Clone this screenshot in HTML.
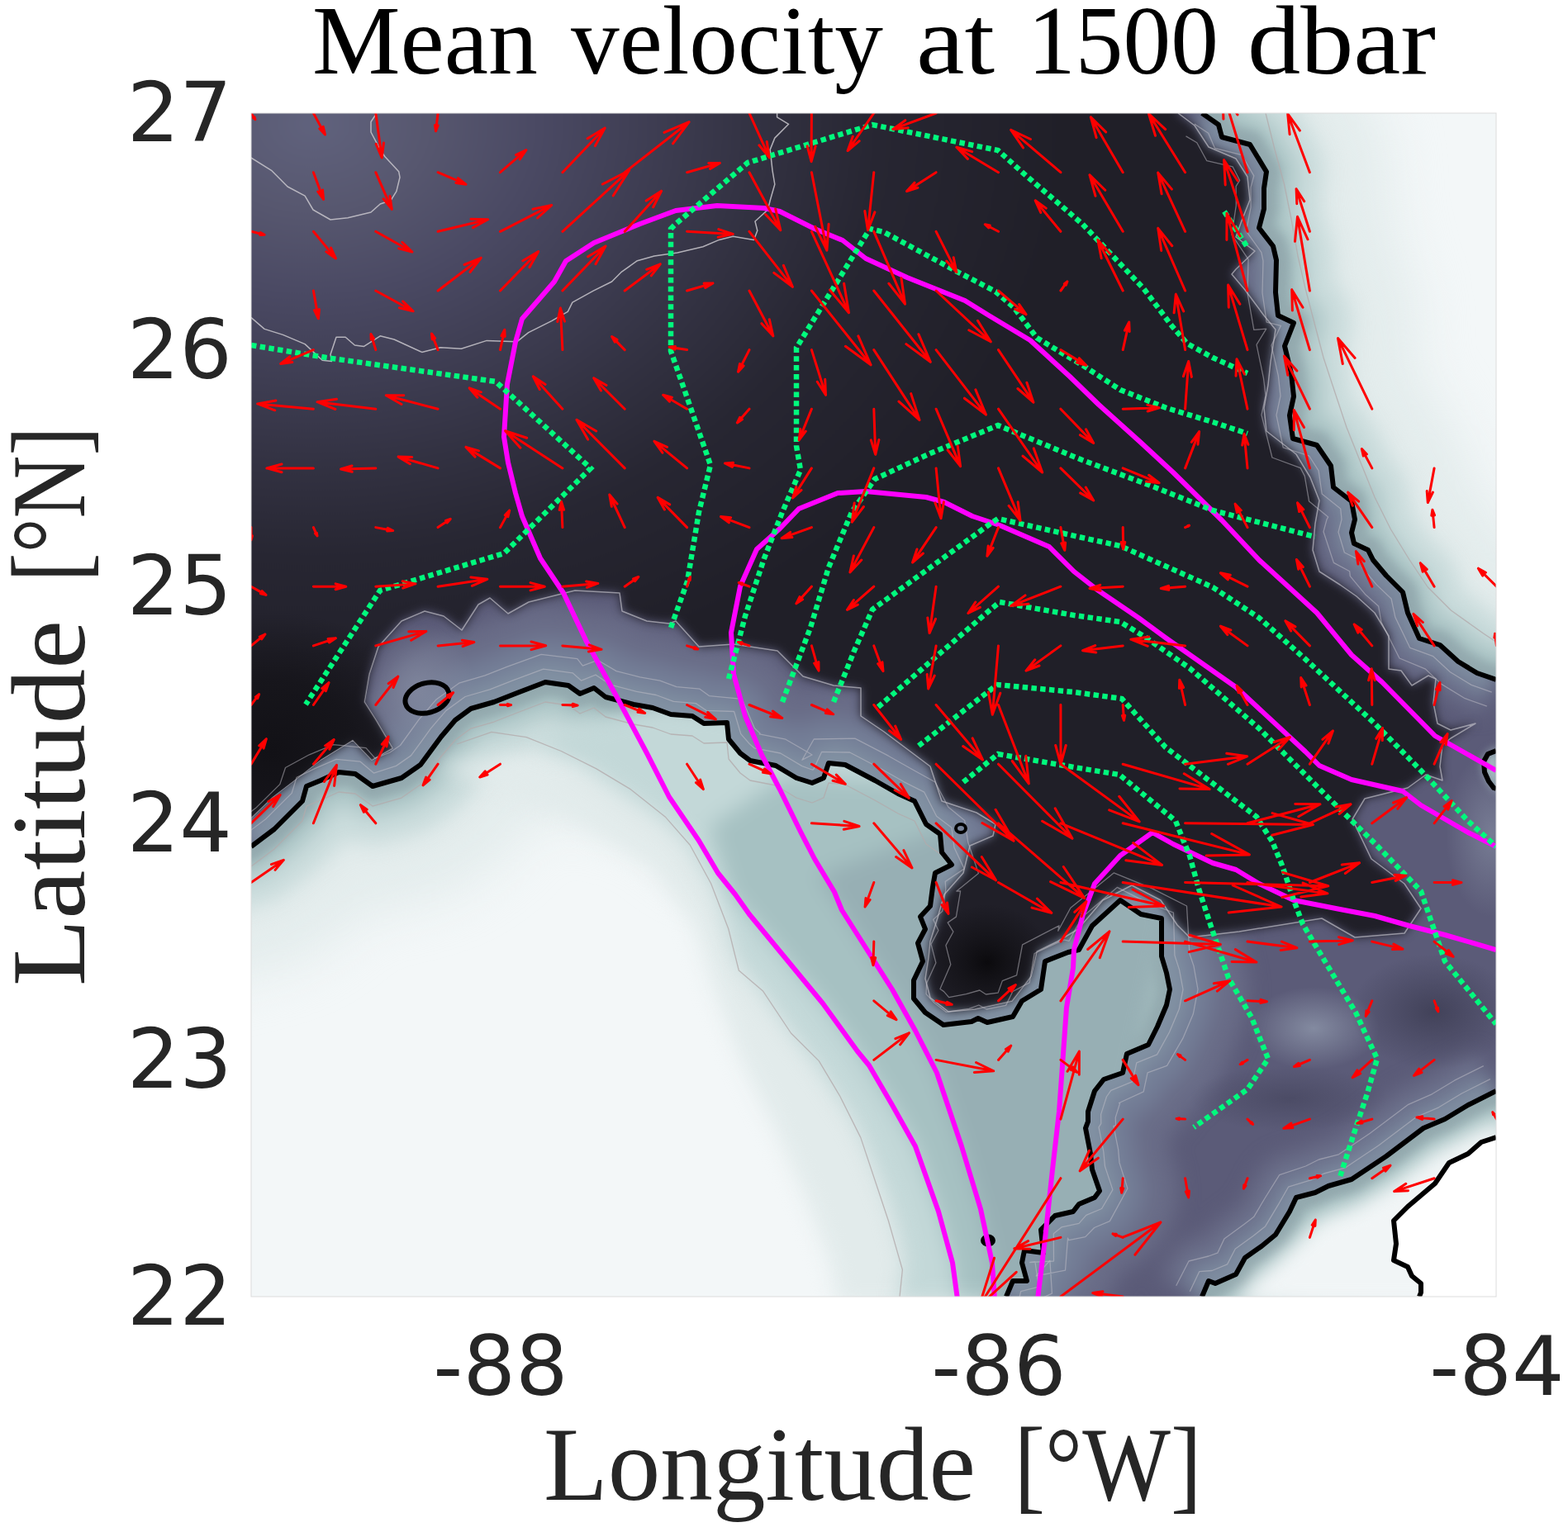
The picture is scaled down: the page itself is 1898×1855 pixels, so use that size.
<!DOCTYPE html>
<html><head><meta charset="utf-8"><style>
html,body{margin:0;padding:0;background:#fff;}
body{width:1898px;height:1855px;overflow:hidden;position:relative;}
svg{position:absolute;left:0;top:0;}
.ser{font-family:"Liberation Serif",serif;}
.san{font-family:"DejaVu Sans","Liberation Sans",sans-serif;}
</style></head><body>
<svg width="1898" height="1855" viewBox="0 0 1898 1855">
<defs>
<clipPath id="plot"><rect x="304" y="137" width="1507" height="1433"/></clipPath>
<clipPath id="deepc"><polygon points="250.0,1040.0 304.0,1025.0 332.0,1004.0 366.0,970.0 371.0,952.0 388.0,945.0 410.0,935.0 430.0,937.0 451.0,952.0 486.0,942.0 509.0,926.0 534.0,892.0 551.0,872.0 570.0,858.0 598.0,850.0 626.0,839.0 660.0,826.0 688.0,830.0 702.0,840.0 719.0,833.0 733.0,844.0 767.0,853.0 790.0,857.0 812.0,865.0 838.0,867.0 852.0,876.0 880.0,875.0 882.0,895.0 896.0,912.0 908.0,921.0 939.0,927.0 964.0,942.0 983.0,948.0 997.0,942.0 1003.0,924.0 1023.0,926.0 1059.0,945.0 1087.0,961.0 1107.0,970.0 1121.0,998.0 1138.0,1010.0 1140.0,1032.0 1152.0,1047.0 1132.0,1057.0 1129.0,1074.0 1126.0,1097.0 1114.0,1110.0 1120.0,1125.0 1111.0,1142.0 1117.0,1164.0 1106.0,1187.0 1106.0,1209.0 1120.0,1226.0 1142.0,1241.0 1176.0,1237.0 1184.0,1233.0 1195.0,1238.0 1226.0,1231.0 1237.0,1212.0 1260.0,1198.0 1265.0,1164.0 1293.0,1153.0 1306.0,1150.0 1322.0,1121.0 1356.0,1090.0 1381.0,1107.0 1406.0,1112.0 1406.0,1158.0 1412.0,1178.0 1416.0,1198.0 1412.0,1217.0 1401.0,1243.0 1390.0,1265.0 1364.0,1276.0 1359.0,1299.0 1336.0,1307.0 1325.0,1321.0 1317.0,1346.0 1317.0,1358.0 1314.0,1366.0 1320.0,1397.0 1322.0,1416.0 1331.0,1442.0 1325.0,1450.0 1306.0,1458.0 1299.0,1467.0 1277.0,1472.0 1260.0,1489.0 1263.0,1517.0 1240.0,1514.0 1237.0,1529.0 1243.0,1551.0 1226.0,1551.0 1218.0,1570.0 1455.0,1570.0 1463.0,1551.0 1471.0,1554.0 1496.0,1543.0 1507.0,1523.0 1527.0,1509.0 1544.0,1495.0 1561.0,1467.0 1569.0,1450.0 1592.0,1444.0 1608.0,1436.0 1636.0,1428.0 1678.0,1400.0 1723.0,1366.0 1749.0,1355.0 1777.0,1338.0 1811.0,1321.0 1860.0,1321.0 1860.0,823.0 1811.0,823.0 1788.0,815.0 1765.0,801.0 1743.0,781.0 1718.0,773.0 1704.0,742.0 1698.0,717.0 1678.0,697.0 1662.0,678.0 1656.0,666.0 1639.0,658.0 1636.0,645.0 1640.0,629.0 1636.0,607.0 1614.0,590.0 1611.0,564.0 1594.0,539.0 1565.0,531.0 1561.0,503.0 1566.0,480.0 1563.0,452.0 1555.0,419.0 1566.0,391.0 1547.0,382.0 1544.0,354.0 1545.0,315.0 1541.0,298.0 1524.0,276.0 1530.0,253.0 1530.0,228.0 1533.0,208.0 1513.0,175.0 1479.0,166.0 1475.0,151.0 1455.0,137.0 1455.0,80.0 250.0,80.0" /></clipPath>
<clipPath id="darkc"><polygon points="250.0,80.0 1426.0,80.0 1426.0,137.0 1446.0,152.0 1463.0,178.0 1496.0,192.0 1510.0,214.0 1513.0,242.0 1502.0,270.0 1496.0,287.0 1519.0,304.0 1496.0,326.0 1491.0,332.0 1507.0,351.0 1530.0,382.0 1544.0,399.0 1538.0,438.0 1535.0,466.0 1530.0,494.0 1533.0,522.0 1569.0,550.0 1586.0,578.0 1597.0,606.0 1592.0,634.0 1589.0,666.0 1597.0,692.0 1622.0,708.0 1642.0,722.0 1664.0,742.0 1681.0,770.0 1681.0,810.0 1696.0,812.0 1709.0,830.0 1729.0,818.0 1738.0,822.0 1735.0,851.0 1740.0,876.0 1756.0,884.0 1786.0,876.0 1756.0,894.0 1746.0,902.0 1743.0,928.0 1746.0,945.0 1726.0,938.0 1704.0,954.0 1652.0,967.0 1637.0,992.0 1660.0,1040.0 1700.0,1070.0 1720.0,1100.0 1700.0,1130.0 1640.0,1135.0 1600.0,1112.0 1500.0,1128.0 1440.0,1135.0 1425.0,1120.0 1405.0,1090.0 1370.0,1072.0 1335.0,1090.0 1305.0,1125.0 1280.0,1140.0 1255.0,1152.0 1248.0,1182.0 1225.0,1212.0 1180.0,1222.0 1148.0,1225.0 1126.0,1208.0 1120.0,1185.0 1124.0,1160.0 1126.0,1140.0 1135.0,1111.0 1143.0,1083.0 1166.0,1057.0 1174.0,1024.0 1202.0,1012.0 1205.0,998.0 1182.0,984.0 1140.0,970.0 1126.0,928.0 1070.0,886.0 1042.0,867.0 1042.0,833.0 1009.0,830.0 972.0,819.0 941.0,788.0 888.0,780.0 846.0,783.0 818.0,752.0 810.0,755.0 783.0,752.0 753.0,740.0 750.0,718.0 696.0,715.0 640.0,729.0 615.0,743.0 593.0,724.0 579.0,732.0 559.0,763.0 537.0,746.0 514.0,740.0 486.0,752.0 458.0,783.0 447.0,816.0 441.0,850.0 455.0,872.0 475.0,906.0 450.0,920.0 427.0,896.0 388.0,920.0 360.0,942.0 330.0,965.0 304.0,990.0 250.0,1000.0" /></clipPath>
<filter id="b30" filterUnits="userSpaceOnUse" x="0" y="0" width="1898" height="1855" color-interpolation-filters="sRGB"><feGaussianBlur stdDeviation="30"/></filter>
<filter id="b12" filterUnits="userSpaceOnUse" x="0" y="0" width="1898" height="1855" color-interpolation-filters="sRGB"><feGaussianBlur stdDeviation="12"/></filter>
<filter id="b6" filterUnits="userSpaceOnUse" x="0" y="0" width="1898" height="1855" color-interpolation-filters="sRGB"><feGaussianBlur stdDeviation="6"/></filter>
<radialGradient id="dg" cx="380" cy="150" r="700" gradientUnits="userSpaceOnUse" gradientTransform="translate(380 150) scale(1.3 1) translate(-380 -150)">
<stop offset="0" stop-color="#60627d"/><stop offset="0.15" stop-color="#57576f"/><stop offset="0.3" stop-color="#4a4963"/><stop offset="0.45" stop-color="#3e3d52"/><stop offset="0.6" stop-color="#323141"/><stop offset="0.75" stop-color="#272632"/><stop offset="1" stop-color="#201f28"/>
</radialGradient>
<radialGradient id="spotL"><stop offset="0" stop-color="#838aa0" stop-opacity="1"/><stop offset="1" stop-color="#838aa0" stop-opacity="0"/></radialGradient>
<radialGradient id="spotD"><stop offset="0" stop-color="#3f3f56" stop-opacity="0.9"/><stop offset="1" stop-color="#3f3f56" stop-opacity="0"/></radialGradient>
<radialGradient id="spot1"><stop offset="0" stop-color="#121116" stop-opacity="1"/><stop offset="0.5" stop-color="#141318" stop-opacity="0.8"/><stop offset="1" stop-color="#141318" stop-opacity="0"/></radialGradient>
<radialGradient id="spot2"><stop offset="0" stop-color="#0b0a0d" stop-opacity="1"/><stop offset="0.6" stop-color="#141318" stop-opacity="0.6"/><stop offset="1" stop-color="#141318" stop-opacity="0"/></radialGradient>
</defs>
<g clip-path="url(#plot)">
<rect x="304" y="137" width="1507" height="1433" fill="#f3f7f8"/>
<g filter="url(#b30)"><polygon points="250.0,1040.0 304.0,1025.0 332.0,1004.0 366.0,970.0 371.0,952.0 388.0,945.0 410.0,935.0 430.0,937.0 451.0,952.0 486.0,942.0 509.0,926.0 534.0,892.0 551.0,872.0 570.0,858.0 598.0,850.0 626.0,839.0 660.0,826.0 688.0,830.0 702.0,840.0 719.0,833.0 733.0,844.0 767.0,853.0 790.0,857.0 812.0,865.0 838.0,867.0 852.0,876.0 880.0,875.0 882.0,895.0 896.0,912.0 908.0,921.0 939.0,927.0 964.0,942.0 983.0,948.0 997.0,942.0 1003.0,924.0 1023.0,926.0 1059.0,945.0 1087.0,961.0 1107.0,970.0 1121.0,998.0 1138.0,1010.0 1140.0,1032.0 1152.0,1047.0 1132.0,1057.0 1129.0,1074.0 1126.0,1097.0 1114.0,1110.0 1120.0,1125.0 1111.0,1142.0 1117.0,1164.0 1106.0,1187.0 1106.0,1209.0 1120.0,1226.0 1142.0,1241.0 1176.0,1237.0 1184.0,1233.0 1195.0,1238.0 1226.0,1231.0 1237.0,1212.0 1260.0,1198.0 1265.0,1164.0 1293.0,1153.0 1306.0,1150.0 1322.0,1121.0 1356.0,1090.0 1381.0,1107.0 1406.0,1112.0 1406.0,1158.0 1412.0,1178.0 1416.0,1198.0 1412.0,1217.0 1401.0,1243.0 1390.0,1265.0 1364.0,1276.0 1359.0,1299.0 1336.0,1307.0 1325.0,1321.0 1317.0,1346.0 1317.0,1358.0 1314.0,1366.0 1320.0,1397.0 1322.0,1416.0 1331.0,1442.0 1325.0,1450.0 1306.0,1458.0 1299.0,1467.0 1277.0,1472.0 1260.0,1489.0 1263.0,1517.0 1240.0,1514.0 1237.0,1529.0 1243.0,1551.0 1226.0,1551.0 1218.0,1570.0 1455.0,1570.0 1463.0,1551.0 1471.0,1554.0 1496.0,1543.0 1507.0,1523.0 1527.0,1509.0 1544.0,1495.0 1561.0,1467.0 1569.0,1450.0 1592.0,1444.0 1608.0,1436.0 1636.0,1428.0 1678.0,1400.0 1723.0,1366.0 1749.0,1355.0 1777.0,1338.0 1811.0,1321.0 1860.0,1321.0 1860.0,823.0 1811.0,823.0 1788.0,815.0 1765.0,801.0 1743.0,781.0 1718.0,773.0 1704.0,742.0 1698.0,717.0 1678.0,697.0 1662.0,678.0 1656.0,666.0 1639.0,658.0 1636.0,645.0 1640.0,629.0 1636.0,607.0 1614.0,590.0 1611.0,564.0 1594.0,539.0 1565.0,531.0 1561.0,503.0 1566.0,480.0 1563.0,452.0 1555.0,419.0 1566.0,391.0 1547.0,382.0 1544.0,354.0 1545.0,315.0 1541.0,298.0 1524.0,276.0 1530.0,253.0 1530.0,228.0 1533.0,208.0 1513.0,175.0 1479.0,166.0 1475.0,151.0 1455.0,137.0 1455.0,80.0 250.0,80.0" fill="none" stroke="#e3ecec" stroke-width="300" stroke-linejoin="round"/></g>
<g filter="url(#b12)"><polygon points="250.0,1040.0 304.0,1025.0 332.0,1004.0 366.0,970.0 371.0,952.0 388.0,945.0 410.0,935.0 430.0,937.0 451.0,952.0 486.0,942.0 509.0,926.0 534.0,892.0 551.0,872.0 570.0,858.0 598.0,850.0 626.0,839.0 660.0,826.0 688.0,830.0 702.0,840.0 719.0,833.0 733.0,844.0 767.0,853.0 790.0,857.0 812.0,865.0 838.0,867.0 852.0,876.0 880.0,875.0 882.0,895.0 896.0,912.0 908.0,921.0 939.0,927.0 964.0,942.0 983.0,948.0 997.0,942.0 1003.0,924.0 1023.0,926.0 1059.0,945.0 1087.0,961.0 1107.0,970.0 1121.0,998.0 1138.0,1010.0 1140.0,1032.0 1152.0,1047.0 1132.0,1057.0 1129.0,1074.0 1126.0,1097.0 1114.0,1110.0 1120.0,1125.0 1111.0,1142.0 1117.0,1164.0 1106.0,1187.0 1106.0,1209.0 1120.0,1226.0 1142.0,1241.0 1176.0,1237.0 1184.0,1233.0 1195.0,1238.0 1226.0,1231.0 1237.0,1212.0 1260.0,1198.0 1265.0,1164.0 1293.0,1153.0 1306.0,1150.0 1322.0,1121.0 1356.0,1090.0 1381.0,1107.0 1406.0,1112.0 1406.0,1158.0 1412.0,1178.0 1416.0,1198.0 1412.0,1217.0 1401.0,1243.0 1390.0,1265.0 1364.0,1276.0 1359.0,1299.0 1336.0,1307.0 1325.0,1321.0 1317.0,1346.0 1317.0,1358.0 1314.0,1366.0 1320.0,1397.0 1322.0,1416.0 1331.0,1442.0 1325.0,1450.0 1306.0,1458.0 1299.0,1467.0 1277.0,1472.0 1260.0,1489.0 1263.0,1517.0 1240.0,1514.0 1237.0,1529.0 1243.0,1551.0 1226.0,1551.0 1218.0,1570.0 1455.0,1570.0 1463.0,1551.0 1471.0,1554.0 1496.0,1543.0 1507.0,1523.0 1527.0,1509.0 1544.0,1495.0 1561.0,1467.0 1569.0,1450.0 1592.0,1444.0 1608.0,1436.0 1636.0,1428.0 1678.0,1400.0 1723.0,1366.0 1749.0,1355.0 1777.0,1338.0 1811.0,1321.0 1860.0,1321.0 1860.0,823.0 1811.0,823.0 1788.0,815.0 1765.0,801.0 1743.0,781.0 1718.0,773.0 1704.0,742.0 1698.0,717.0 1678.0,697.0 1662.0,678.0 1656.0,666.0 1639.0,658.0 1636.0,645.0 1640.0,629.0 1636.0,607.0 1614.0,590.0 1611.0,564.0 1594.0,539.0 1565.0,531.0 1561.0,503.0 1566.0,480.0 1563.0,452.0 1555.0,419.0 1566.0,391.0 1547.0,382.0 1544.0,354.0 1545.0,315.0 1541.0,298.0 1524.0,276.0 1530.0,253.0 1530.0,228.0 1533.0,208.0 1513.0,175.0 1479.0,166.0 1475.0,151.0 1455.0,137.0 1455.0,80.0 250.0,80.0" fill="none" stroke="#c9dbdb" stroke-width="140" stroke-linejoin="round"/><polygon points="250.0,1040.0 304.0,1025.0 332.0,1004.0 366.0,970.0 371.0,952.0 388.0,945.0 410.0,935.0 430.0,937.0 451.0,952.0 486.0,942.0 509.0,926.0 534.0,892.0 551.0,872.0 570.0,858.0 598.0,850.0 626.0,839.0 660.0,826.0 688.0,830.0 702.0,840.0 719.0,833.0 733.0,844.0 767.0,853.0 790.0,857.0 812.0,865.0 838.0,867.0 852.0,876.0 880.0,875.0 882.0,895.0 896.0,912.0 908.0,921.0 939.0,927.0 964.0,942.0 983.0,948.0 997.0,942.0 1003.0,924.0 1023.0,926.0 1059.0,945.0 1087.0,961.0 1107.0,970.0 1121.0,998.0 1138.0,1010.0 1140.0,1032.0 1152.0,1047.0 1132.0,1057.0 1129.0,1074.0 1126.0,1097.0 1114.0,1110.0 1120.0,1125.0 1111.0,1142.0 1117.0,1164.0 1106.0,1187.0 1106.0,1209.0 1120.0,1226.0 1142.0,1241.0 1176.0,1237.0 1184.0,1233.0 1195.0,1238.0 1226.0,1231.0 1237.0,1212.0 1260.0,1198.0 1265.0,1164.0 1293.0,1153.0 1306.0,1150.0 1322.0,1121.0 1356.0,1090.0 1381.0,1107.0 1406.0,1112.0 1406.0,1158.0 1412.0,1178.0 1416.0,1198.0 1412.0,1217.0 1401.0,1243.0 1390.0,1265.0 1364.0,1276.0 1359.0,1299.0 1336.0,1307.0 1325.0,1321.0 1317.0,1346.0 1317.0,1358.0 1314.0,1366.0 1320.0,1397.0 1322.0,1416.0 1331.0,1442.0 1325.0,1450.0 1306.0,1458.0 1299.0,1467.0 1277.0,1472.0 1260.0,1489.0 1263.0,1517.0 1240.0,1514.0 1237.0,1529.0 1243.0,1551.0 1226.0,1551.0 1218.0,1570.0 1455.0,1570.0 1463.0,1551.0 1471.0,1554.0 1496.0,1543.0 1507.0,1523.0 1527.0,1509.0 1544.0,1495.0 1561.0,1467.0 1569.0,1450.0 1592.0,1444.0 1608.0,1436.0 1636.0,1428.0 1678.0,1400.0 1723.0,1366.0 1749.0,1355.0 1777.0,1338.0 1811.0,1321.0 1860.0,1321.0 1860.0,823.0 1811.0,823.0 1788.0,815.0 1765.0,801.0 1743.0,781.0 1718.0,773.0 1704.0,742.0 1698.0,717.0 1678.0,697.0 1662.0,678.0 1656.0,666.0 1639.0,658.0 1636.0,645.0 1640.0,629.0 1636.0,607.0 1614.0,590.0 1611.0,564.0 1594.0,539.0 1565.0,531.0 1561.0,503.0 1566.0,480.0 1563.0,452.0 1555.0,419.0 1566.0,391.0 1547.0,382.0 1544.0,354.0 1545.0,315.0 1541.0,298.0 1524.0,276.0 1530.0,253.0 1530.0,228.0 1533.0,208.0 1513.0,175.0 1479.0,166.0 1475.0,151.0 1455.0,137.0 1455.0,80.0 250.0,80.0" fill="none" stroke="#a9c3c4" stroke-width="70" stroke-linejoin="round"/></g>
<g filter="url(#b6)"><polygon points="250.0,1040.0 304.0,1025.0 332.0,1004.0 366.0,970.0 371.0,952.0 388.0,945.0 410.0,935.0 430.0,937.0 451.0,952.0 486.0,942.0 509.0,926.0 534.0,892.0 551.0,872.0 570.0,858.0 598.0,850.0 626.0,839.0 660.0,826.0 688.0,830.0 702.0,840.0 719.0,833.0 733.0,844.0 767.0,853.0 790.0,857.0 812.0,865.0 838.0,867.0 852.0,876.0 880.0,875.0 882.0,895.0 896.0,912.0 908.0,921.0 939.0,927.0 964.0,942.0 983.0,948.0 997.0,942.0 1003.0,924.0 1023.0,926.0 1059.0,945.0 1087.0,961.0 1107.0,970.0 1121.0,998.0 1138.0,1010.0 1140.0,1032.0 1152.0,1047.0 1132.0,1057.0 1129.0,1074.0 1126.0,1097.0 1114.0,1110.0 1120.0,1125.0 1111.0,1142.0 1117.0,1164.0 1106.0,1187.0 1106.0,1209.0 1120.0,1226.0 1142.0,1241.0 1176.0,1237.0 1184.0,1233.0 1195.0,1238.0 1226.0,1231.0 1237.0,1212.0 1260.0,1198.0 1265.0,1164.0 1293.0,1153.0 1306.0,1150.0 1322.0,1121.0 1356.0,1090.0 1381.0,1107.0 1406.0,1112.0 1406.0,1158.0 1412.0,1178.0 1416.0,1198.0 1412.0,1217.0 1401.0,1243.0 1390.0,1265.0 1364.0,1276.0 1359.0,1299.0 1336.0,1307.0 1325.0,1321.0 1317.0,1346.0 1317.0,1358.0 1314.0,1366.0 1320.0,1397.0 1322.0,1416.0 1331.0,1442.0 1325.0,1450.0 1306.0,1458.0 1299.0,1467.0 1277.0,1472.0 1260.0,1489.0 1263.0,1517.0 1240.0,1514.0 1237.0,1529.0 1243.0,1551.0 1226.0,1551.0 1218.0,1570.0 1455.0,1570.0 1463.0,1551.0 1471.0,1554.0 1496.0,1543.0 1507.0,1523.0 1527.0,1509.0 1544.0,1495.0 1561.0,1467.0 1569.0,1450.0 1592.0,1444.0 1608.0,1436.0 1636.0,1428.0 1678.0,1400.0 1723.0,1366.0 1749.0,1355.0 1777.0,1338.0 1811.0,1321.0 1860.0,1321.0 1860.0,823.0 1811.0,823.0 1788.0,815.0 1765.0,801.0 1743.0,781.0 1718.0,773.0 1704.0,742.0 1698.0,717.0 1678.0,697.0 1662.0,678.0 1656.0,666.0 1639.0,658.0 1636.0,645.0 1640.0,629.0 1636.0,607.0 1614.0,590.0 1611.0,564.0 1594.0,539.0 1565.0,531.0 1561.0,503.0 1566.0,480.0 1563.0,452.0 1555.0,419.0 1566.0,391.0 1547.0,382.0 1544.0,354.0 1545.0,315.0 1541.0,298.0 1524.0,276.0 1530.0,253.0 1530.0,228.0 1533.0,208.0 1513.0,175.0 1479.0,166.0 1475.0,151.0 1455.0,137.0 1455.0,80.0 250.0,80.0" fill="none" stroke="#93a9ae" stroke-width="34" stroke-linejoin="round"/></g>
<g filter="url(#b12)"><polygon points="520.0,925.0 600.0,950.0 700.0,995.0 790.0,1050.0 840.0,1120.0 865.0,1200.0 895.0,1280.0 935.0,1360.0 975.0,1450.0 1005.0,1530.0 1015.0,1580.0 1200.0,1580.0 1200.0,900.0" fill="#e2ebeb"/></g>
<g filter="url(#b12)"><polygon points="640.0,900.0 700.0,924.0 751.0,959.0 799.0,991.0 830.0,1019.0 866.0,1078.0 890.0,1161.0 921.0,1200.0 953.0,1244.0 992.0,1295.0 1032.0,1354.0 1056.0,1406.0 1075.0,1453.0 1087.0,1493.0 1095.0,1532.0 1085.0,1575.0 1300.0,1575.0 1420.0,1100.0 1150.0,900.0 800.0,850.0" fill="#c3d8d8"/><polygon points="860.0,1000.0 884.0,1080.0 968.0,1181.0 996.0,1215.0 1038.0,1273.0 1080.0,1338.0 1108.0,1388.0 1136.0,1467.0 1153.0,1529.0 1159.0,1575.0 1300.0,1575.0 1420.0,1100.0 1150.0,950.0 950.0,940.0" fill="#a6c1c2"/><polygon points="990.0,1060.0 1019.0,1102.0 1080.0,1198.0 1108.0,1248.0 1134.0,1299.0 1164.0,1388.0 1187.0,1464.0 1201.0,1529.0 1204.0,1575.0 1320.0,1575.0 1420.0,1100.0 1150.0,1000.0" fill="#97afb4"/></g>
<polygon points="250.0,1040.0 304.0,1025.0 332.0,1004.0 366.0,970.0 371.0,952.0 388.0,945.0 410.0,935.0 430.0,937.0 451.0,952.0 486.0,942.0 509.0,926.0 534.0,892.0 551.0,872.0 570.0,858.0 598.0,850.0 626.0,839.0 660.0,826.0 688.0,830.0 702.0,840.0 719.0,833.0 733.0,844.0 767.0,853.0 790.0,857.0 812.0,865.0 838.0,867.0 852.0,876.0 880.0,875.0 882.0,895.0 896.0,912.0 908.0,921.0 939.0,927.0 964.0,942.0 983.0,948.0 997.0,942.0 1003.0,924.0 1023.0,926.0 1059.0,945.0 1087.0,961.0 1107.0,970.0 1121.0,998.0 1138.0,1010.0 1140.0,1032.0 1152.0,1047.0 1132.0,1057.0 1129.0,1074.0 1126.0,1097.0 1114.0,1110.0 1120.0,1125.0 1111.0,1142.0 1117.0,1164.0 1106.0,1187.0 1106.0,1209.0 1120.0,1226.0 1142.0,1241.0 1176.0,1237.0 1184.0,1233.0 1195.0,1238.0 1226.0,1231.0 1237.0,1212.0 1260.0,1198.0 1265.0,1164.0 1293.0,1153.0 1306.0,1150.0 1322.0,1121.0 1356.0,1090.0 1381.0,1107.0 1406.0,1112.0 1406.0,1158.0 1412.0,1178.0 1416.0,1198.0 1412.0,1217.0 1401.0,1243.0 1390.0,1265.0 1364.0,1276.0 1359.0,1299.0 1336.0,1307.0 1325.0,1321.0 1317.0,1346.0 1317.0,1358.0 1314.0,1366.0 1320.0,1397.0 1322.0,1416.0 1331.0,1442.0 1325.0,1450.0 1306.0,1458.0 1299.0,1467.0 1277.0,1472.0 1260.0,1489.0 1263.0,1517.0 1240.0,1514.0 1237.0,1529.0 1243.0,1551.0 1226.0,1551.0 1218.0,1570.0 1455.0,1570.0 1463.0,1551.0 1471.0,1554.0 1496.0,1543.0 1507.0,1523.0 1527.0,1509.0 1544.0,1495.0 1561.0,1467.0 1569.0,1450.0 1592.0,1444.0 1608.0,1436.0 1636.0,1428.0 1678.0,1400.0 1723.0,1366.0 1749.0,1355.0 1777.0,1338.0 1811.0,1321.0 1860.0,1321.0 1860.0,823.0 1811.0,823.0 1788.0,815.0 1765.0,801.0 1743.0,781.0 1718.0,773.0 1704.0,742.0 1698.0,717.0 1678.0,697.0 1662.0,678.0 1656.0,666.0 1639.0,658.0 1636.0,645.0 1640.0,629.0 1636.0,607.0 1614.0,590.0 1611.0,564.0 1594.0,539.0 1565.0,531.0 1561.0,503.0 1566.0,480.0 1563.0,452.0 1555.0,419.0 1566.0,391.0 1547.0,382.0 1544.0,354.0 1545.0,315.0 1541.0,298.0 1524.0,276.0 1530.0,253.0 1530.0,228.0 1533.0,208.0 1513.0,175.0 1479.0,166.0 1475.0,151.0 1455.0,137.0 1455.0,80.0 250.0,80.0" fill="#5b5b78"/>
<g clip-path="url(#deepc)">
<g filter="url(#b12)">
<polyline points="304.0,1025.0 332.0,1004.0 366.0,970.0 371.0,952.0 388.0,945.0 410.0,935.0 430.0,937.0 451.0,952.0 486.0,942.0 509.0,926.0 534.0,892.0 551.0,872.0 570.0,858.0 598.0,850.0 626.0,839.0 660.0,826.0 688.0,830.0 702.0,840.0 719.0,833.0 733.0,844.0 767.0,853.0 790.0,857.0 812.0,865.0 838.0,867.0 852.0,876.0 880.0,875.0 882.0,895.0 896.0,912.0 908.0,921.0 939.0,927.0 964.0,942.0 983.0,948.0 997.0,942.0 1003.0,924.0 1023.0,926.0 1059.0,945.0 1087.0,961.0 1107.0,970.0 1121.0,998.0 1138.0,1010.0 1140.0,1032.0 1152.0,1047.0 1132.0,1057.0 1129.0,1074.0 1126.0,1097.0 1114.0,1110.0 1120.0,1125.0 1111.0,1142.0 1117.0,1164.0 1106.0,1187.0 1106.0,1209.0 1120.0,1226.0 1142.0,1241.0 1176.0,1237.0 1184.0,1233.0 1195.0,1238.0 1226.0,1231.0 1237.0,1212.0 1260.0,1198.0 1265.0,1164.0 1293.0,1153.0 1306.0,1150.0 1322.0,1121.0 1356.0,1090.0 1381.0,1107.0 1406.0,1112.0 1406.0,1158.0 1412.0,1178.0 1416.0,1198.0 1412.0,1217.0 1401.0,1243.0 1390.0,1265.0 1364.0,1276.0 1359.0,1299.0 1336.0,1307.0 1325.0,1321.0 1317.0,1346.0 1317.0,1358.0 1314.0,1366.0 1320.0,1397.0 1322.0,1416.0 1331.0,1442.0 1325.0,1450.0 1306.0,1458.0 1299.0,1467.0 1277.0,1472.0 1260.0,1489.0 1263.0,1517.0 1240.0,1514.0 1237.0,1529.0 1243.0,1551.0 1226.0,1551.0 1218.0,1570.0" fill="none" stroke="#696c87" stroke-width="190" stroke-linejoin="round"/>
<polyline points="1455.0,1570.0 1463.0,1551.0 1471.0,1554.0 1496.0,1543.0 1507.0,1523.0 1527.0,1509.0 1544.0,1495.0 1561.0,1467.0 1569.0,1450.0 1592.0,1444.0 1608.0,1436.0 1636.0,1428.0 1678.0,1400.0 1723.0,1366.0 1749.0,1355.0 1777.0,1338.0 1811.0,1321.0" fill="none" stroke="#696c87" stroke-width="110" stroke-linejoin="round"/>
<polyline points="1811.0,823.0 1788.0,815.0 1765.0,801.0 1743.0,781.0 1718.0,773.0 1704.0,742.0 1698.0,717.0 1678.0,697.0 1662.0,678.0 1656.0,666.0 1639.0,658.0 1636.0,645.0 1640.0,629.0 1636.0,607.0 1614.0,590.0 1611.0,564.0 1594.0,539.0 1565.0,531.0 1561.0,503.0 1566.0,480.0 1563.0,452.0 1555.0,419.0 1566.0,391.0 1547.0,382.0 1544.0,354.0 1545.0,315.0 1541.0,298.0 1524.0,276.0 1530.0,253.0 1530.0,228.0 1533.0,208.0 1513.0,175.0 1479.0,166.0 1475.0,151.0 1455.0,137.0" fill="none" stroke="#696c87" stroke-width="90" stroke-linejoin="round"/>
<polyline points="304.0,1025.0 332.0,1004.0 366.0,970.0 371.0,952.0 388.0,945.0 410.0,935.0 430.0,937.0 451.0,952.0 486.0,942.0 509.0,926.0 534.0,892.0 551.0,872.0 570.0,858.0 598.0,850.0 626.0,839.0 660.0,826.0 688.0,830.0 702.0,840.0 719.0,833.0 733.0,844.0 767.0,853.0 790.0,857.0 812.0,865.0 838.0,867.0 852.0,876.0 880.0,875.0 882.0,895.0 896.0,912.0 908.0,921.0 939.0,927.0 964.0,942.0 983.0,948.0 997.0,942.0 1003.0,924.0 1023.0,926.0 1059.0,945.0 1087.0,961.0 1107.0,970.0 1121.0,998.0 1138.0,1010.0 1140.0,1032.0 1152.0,1047.0 1132.0,1057.0 1129.0,1074.0 1126.0,1097.0 1114.0,1110.0 1120.0,1125.0 1111.0,1142.0 1117.0,1164.0 1106.0,1187.0 1106.0,1209.0 1120.0,1226.0 1142.0,1241.0 1176.0,1237.0 1184.0,1233.0 1195.0,1238.0 1226.0,1231.0 1237.0,1212.0 1260.0,1198.0 1265.0,1164.0 1293.0,1153.0 1306.0,1150.0 1322.0,1121.0 1356.0,1090.0 1381.0,1107.0 1406.0,1112.0 1406.0,1158.0 1412.0,1178.0 1416.0,1198.0 1412.0,1217.0 1401.0,1243.0 1390.0,1265.0 1364.0,1276.0 1359.0,1299.0 1336.0,1307.0 1325.0,1321.0 1317.0,1346.0 1317.0,1358.0 1314.0,1366.0 1320.0,1397.0 1322.0,1416.0 1331.0,1442.0 1325.0,1450.0 1306.0,1458.0 1299.0,1467.0 1277.0,1472.0 1260.0,1489.0 1263.0,1517.0 1240.0,1514.0 1237.0,1529.0 1243.0,1551.0 1226.0,1551.0 1218.0,1570.0" fill="none" stroke="#737d96" stroke-width="110" stroke-linejoin="round"/>
<polyline points="1455.0,1570.0 1463.0,1551.0 1471.0,1554.0 1496.0,1543.0 1507.0,1523.0 1527.0,1509.0 1544.0,1495.0 1561.0,1467.0 1569.0,1450.0 1592.0,1444.0 1608.0,1436.0 1636.0,1428.0 1678.0,1400.0 1723.0,1366.0 1749.0,1355.0 1777.0,1338.0 1811.0,1321.0" fill="none" stroke="#737d96" stroke-width="60" stroke-linejoin="round"/>
<polyline points="1811.0,823.0 1788.0,815.0 1765.0,801.0 1743.0,781.0 1718.0,773.0 1704.0,742.0 1698.0,717.0 1678.0,697.0 1662.0,678.0 1656.0,666.0 1639.0,658.0 1636.0,645.0 1640.0,629.0 1636.0,607.0 1614.0,590.0 1611.0,564.0 1594.0,539.0 1565.0,531.0 1561.0,503.0 1566.0,480.0 1563.0,452.0 1555.0,419.0 1566.0,391.0 1547.0,382.0 1544.0,354.0 1545.0,315.0 1541.0,298.0 1524.0,276.0 1530.0,253.0 1530.0,228.0 1533.0,208.0 1513.0,175.0 1479.0,166.0 1475.0,151.0 1455.0,137.0" fill="none" stroke="#737d96" stroke-width="48" stroke-linejoin="round"/>
<polyline points="304.0,1025.0 332.0,1004.0 366.0,970.0 371.0,952.0 388.0,945.0 410.0,935.0 430.0,937.0 451.0,952.0 486.0,942.0 509.0,926.0 534.0,892.0 551.0,872.0 570.0,858.0 598.0,850.0 626.0,839.0 660.0,826.0 688.0,830.0 702.0,840.0 719.0,833.0 733.0,844.0 767.0,853.0 790.0,857.0 812.0,865.0 838.0,867.0 852.0,876.0 880.0,875.0 882.0,895.0 896.0,912.0 908.0,921.0 939.0,927.0 964.0,942.0 983.0,948.0 997.0,942.0 1003.0,924.0 1023.0,926.0 1059.0,945.0 1087.0,961.0 1107.0,970.0 1121.0,998.0 1138.0,1010.0 1140.0,1032.0 1152.0,1047.0 1132.0,1057.0 1129.0,1074.0 1126.0,1097.0 1114.0,1110.0 1120.0,1125.0 1111.0,1142.0 1117.0,1164.0 1106.0,1187.0 1106.0,1209.0 1120.0,1226.0 1142.0,1241.0 1176.0,1237.0 1184.0,1233.0 1195.0,1238.0 1226.0,1231.0 1237.0,1212.0 1260.0,1198.0 1265.0,1164.0 1293.0,1153.0 1306.0,1150.0 1322.0,1121.0 1356.0,1090.0 1381.0,1107.0 1406.0,1112.0 1406.0,1158.0 1412.0,1178.0 1416.0,1198.0 1412.0,1217.0 1401.0,1243.0 1390.0,1265.0 1364.0,1276.0 1359.0,1299.0 1336.0,1307.0 1325.0,1321.0 1317.0,1346.0 1317.0,1358.0 1314.0,1366.0 1320.0,1397.0 1322.0,1416.0 1331.0,1442.0 1325.0,1450.0 1306.0,1458.0 1299.0,1467.0 1277.0,1472.0 1260.0,1489.0 1263.0,1517.0 1240.0,1514.0 1237.0,1529.0 1243.0,1551.0 1226.0,1551.0 1218.0,1570.0" fill="none" stroke="#8292a3" stroke-width="44" stroke-linejoin="round"/>
<polyline points="1455.0,1570.0 1463.0,1551.0 1471.0,1554.0 1496.0,1543.0 1507.0,1523.0 1527.0,1509.0 1544.0,1495.0 1561.0,1467.0 1569.0,1450.0 1592.0,1444.0 1608.0,1436.0 1636.0,1428.0 1678.0,1400.0 1723.0,1366.0 1749.0,1355.0 1777.0,1338.0 1811.0,1321.0" fill="none" stroke="#8292a3" stroke-width="26" stroke-linejoin="round"/>
<polyline points="1811.0,823.0 1788.0,815.0 1765.0,801.0 1743.0,781.0 1718.0,773.0 1704.0,742.0 1698.0,717.0 1678.0,697.0 1662.0,678.0 1656.0,666.0 1639.0,658.0 1636.0,645.0 1640.0,629.0 1636.0,607.0 1614.0,590.0 1611.0,564.0 1594.0,539.0 1565.0,531.0 1561.0,503.0 1566.0,480.0 1563.0,452.0 1555.0,419.0 1566.0,391.0 1547.0,382.0 1544.0,354.0 1545.0,315.0 1541.0,298.0 1524.0,276.0 1530.0,253.0 1530.0,228.0 1533.0,208.0 1513.0,175.0 1479.0,166.0 1475.0,151.0 1455.0,137.0" fill="none" stroke="#8292a3" stroke-width="22" stroke-linejoin="round"/>
</g>
<ellipse cx="1590" cy="1245" rx="80" ry="50" fill="url(#spotL)"/>
<ellipse cx="505" cy="835" rx="70" ry="80" fill="url(#spotL)" opacity="0.8"/>
<ellipse cx="1805" cy="1010" rx="55" ry="100" fill="url(#spotL)" opacity="0.7"/>
<ellipse cx="1735" cy="1225" rx="100" ry="70" fill="url(#spotD)"/>
<ellipse cx="1560" cy="1330" rx="120" ry="40" fill="url(#spotD)" opacity="0.6"/>
<g filter="url(#b6)">
<polygon points="250.0,80.0 1426.0,80.0 1426.0,137.0 1446.0,152.0 1463.0,178.0 1496.0,192.0 1510.0,214.0 1513.0,242.0 1502.0,270.0 1496.0,287.0 1519.0,304.0 1496.0,326.0 1491.0,332.0 1507.0,351.0 1530.0,382.0 1544.0,399.0 1538.0,438.0 1535.0,466.0 1530.0,494.0 1533.0,522.0 1569.0,550.0 1586.0,578.0 1597.0,606.0 1592.0,634.0 1589.0,666.0 1597.0,692.0 1622.0,708.0 1642.0,722.0 1664.0,742.0 1681.0,770.0 1681.0,810.0 1696.0,812.0 1709.0,830.0 1729.0,818.0 1738.0,822.0 1735.0,851.0 1740.0,876.0 1756.0,884.0 1786.0,876.0 1756.0,894.0 1746.0,902.0 1743.0,928.0 1746.0,945.0 1726.0,938.0 1704.0,954.0 1652.0,967.0 1637.0,992.0 1660.0,1040.0 1700.0,1070.0 1720.0,1100.0 1700.0,1130.0 1640.0,1135.0 1600.0,1112.0 1500.0,1128.0 1440.0,1135.0 1425.0,1120.0 1405.0,1090.0 1370.0,1072.0 1335.0,1090.0 1305.0,1125.0 1280.0,1140.0 1255.0,1152.0 1248.0,1182.0 1225.0,1212.0 1180.0,1222.0 1148.0,1225.0 1126.0,1208.0 1120.0,1185.0 1124.0,1160.0 1126.0,1140.0 1135.0,1111.0 1143.0,1083.0 1166.0,1057.0 1174.0,1024.0 1202.0,1012.0 1205.0,998.0 1182.0,984.0 1140.0,970.0 1126.0,928.0 1070.0,886.0 1042.0,867.0 1042.0,833.0 1009.0,830.0 972.0,819.0 941.0,788.0 888.0,780.0 846.0,783.0 818.0,752.0 810.0,755.0 783.0,752.0 753.0,740.0 750.0,718.0 696.0,715.0 640.0,729.0 615.0,743.0 593.0,724.0 579.0,732.0 559.0,763.0 537.0,746.0 514.0,740.0 486.0,752.0 458.0,783.0 447.0,816.0 441.0,850.0 455.0,872.0 475.0,906.0 450.0,920.0 427.0,896.0 388.0,920.0 360.0,942.0 330.0,965.0 304.0,990.0 250.0,1000.0" fill="url(#dg)"/>
</g>
<polyline points="1426.0,137.0 1446.0,152.0 1463.0,178.0 1496.0,192.0 1510.0,214.0 1513.0,242.0 1502.0,270.0 1496.0,287.0 1519.0,304.0 1496.0,326.0 1491.0,332.0 1507.0,351.0 1530.0,382.0 1544.0,399.0 1538.0,438.0 1535.0,466.0 1530.0,494.0 1533.0,522.0 1569.0,550.0 1586.0,578.0 1597.0,606.0 1592.0,634.0 1589.0,666.0 1597.0,692.0 1622.0,708.0 1642.0,722.0 1664.0,742.0 1681.0,770.0 1681.0,810.0 1696.0,812.0 1709.0,830.0 1729.0,818.0 1738.0,822.0 1735.0,851.0 1740.0,876.0 1756.0,884.0 1786.0,876.0 1756.0,894.0 1746.0,902.0 1743.0,928.0 1746.0,945.0 1726.0,938.0 1704.0,954.0 1652.0,967.0 1637.0,992.0 1660.0,1040.0 1700.0,1070.0 1720.0,1100.0 1700.0,1130.0 1640.0,1135.0 1600.0,1112.0 1500.0,1128.0 1440.0,1135.0 1425.0,1120.0 1405.0,1090.0 1370.0,1072.0 1335.0,1090.0 1305.0,1125.0 1280.0,1140.0 1255.0,1152.0 1248.0,1182.0 1225.0,1212.0 1180.0,1222.0 1148.0,1225.0 1126.0,1208.0 1120.0,1185.0 1124.0,1160.0 1126.0,1140.0 1135.0,1111.0 1143.0,1083.0 1166.0,1057.0 1174.0,1024.0 1202.0,1012.0 1205.0,998.0 1182.0,984.0 1140.0,970.0 1126.0,928.0 1070.0,886.0 1042.0,867.0 1042.0,833.0 1009.0,830.0 972.0,819.0 941.0,788.0 888.0,780.0 846.0,783.0 818.0,752.0 810.0,755.0 783.0,752.0 753.0,740.0 750.0,718.0 696.0,715.0 640.0,729.0 615.0,743.0 593.0,724.0 579.0,732.0 559.0,763.0 537.0,746.0 514.0,740.0 486.0,752.0 458.0,783.0 447.0,816.0 441.0,850.0 455.0,872.0 475.0,906.0 450.0,920.0 427.0,896.0 388.0,920.0 360.0,942.0 330.0,965.0 304.0,990.0" fill="none" stroke="#bdbcc4" stroke-width="1.5" stroke-linejoin="round" opacity="0.7"/>
<g clip-path="url(#darkc)">
<ellipse cx="330" cy="910" rx="200" ry="170" fill="url(#spot1)"/>
<ellipse cx="1195" cy="1165" rx="80" ry="70" fill="url(#spot2)"/>
</g>
</g>
<g filter="url(#b6)"><polygon points="1815.0,905.0 1801.0,913.0 1796.0,922.0 1797.0,935.0 1802.0,946.0 1808.0,954.0 1815.0,960.0" fill="#a9c0c4"/></g>
<polyline points="294.4,1012.2 321.4,992.0 353.2,960.4 359.0,941.4 381.6,930.3 407.0,919.3 436.1,922.2 452.4,936.1 479.5,927.4 497.5,914.9 521.4,882.2 540.0,860.4 563.2,843.5 592.9,834.8 620.2,824.1 657.7,810.2 693.1,814.8 703.5,824.1 721.0,817.1 739.2,829.2 770.6,837.4 794.1,841.5 815.3,849.3 842.2,851.6 855.0,860.3 888.6,861.5 896.7,888.6 907.3,900.7 913.3,905.9 944.6,912.0 970.9,927.6 983.0,932.0 984.7,931.8 994.6,910.4 1028.6,911.0 1066.7,931.0 1094.4,946.8 1118.8,959.2 1133.6,988.2 1152.0,1002.2 1155.0,1026.3 1167.2,1051.9 1144.2,1067.4 1144.8,1076.4 1140.8,1103.2 1129.6,1113.4 1135.9,1126.5 1127.0,1143.2 1132.9,1165.8 1121.5,1190.8 1121.1,1203.6 1130.6,1214.0 1145.1,1225.3 1173.0,1221.3 1184.8,1217.0 1194.2,1222.0 1217.6,1217.4 1225.9,1200.5 1246.2,1189.9 1252.1,1154.5 1287.8,1137.9 1294.1,1139.3 1309.7,1110.8 1352.3,1074.4 1387.4,1092.4 1420.4,1105.0 1421.9,1156.6 1427.5,1174.1 1432.0,1198.0 1427.2,1222.1 1415.5,1249.7 1400.6,1276.9 1375.8,1286.8 1370.9,1309.7 1344.7,1320.4 1339.4,1328.0 1332.6,1349.4 1332.8,1360.4 1330.0,1364.8 1335.8,1394.5 1337.5,1412.2 1346.9,1440.6 1333.6,1463.5 1314.8,1471.4 1306.0,1481.4 1284.9,1485.9 1275.3,1493.8 1275.5,1527.0 1246.7,1528.5 1252.9,1527.7 1257.3,1558.2 1235.7,1563.7 1232.7,1576.2" fill="none" stroke="#c4c2ca" stroke-width="1.3" stroke-linejoin="round" opacity="0.5"/>
<polyline points="283.6,997.8 309.4,978.6 338.8,949.6 345.5,929.5 374.4,913.8 403.6,901.6 443.0,905.6 454.0,918.1 472.1,911.0 484.5,902.5 507.2,871.1 527.7,847.3 555.6,827.2 587.1,817.8 613.7,807.3 655.1,792.4 698.8,797.7 705.3,806.2 723.4,799.3 746.1,812.6 774.6,819.9 798.8,824.1 818.9,831.7 847.0,834.2 858.4,842.6 898.2,846.3 913.2,881.5 920.0,888.0 919.2,888.9 950.9,895.2 978.6,911.3 983.0,914.0 970.9,920.2 985.2,895.0 1034.9,894.2 1075.3,915.2 1102.7,930.8 1132.0,947.0 1147.9,977.2 1167.7,993.4 1171.8,1020.0 1184.4,1057.4 1157.9,1079.0 1162.6,1079.0 1157.4,1110.1 1147.2,1117.1 1153.9,1128.2 1144.9,1144.6 1150.8,1167.8 1139.0,1195.1 1138.0,1197.5 1142.6,1200.6 1148.6,1207.6 1169.6,1203.6 1185.8,1199.0 1193.4,1204.0 1208.1,1202.1 1213.3,1187.6 1230.6,1180.9 1237.6,1143.9 1282.0,1120.8 1280.8,1127.2 1295.9,1099.2 1348.2,1056.9 1394.7,1075.9 1436.5,1097.0 1439.9,1154.9 1445.0,1169.8 1450.0,1198.0 1444.3,1227.8 1431.9,1257.2 1412.6,1290.4 1389.1,1298.9 1384.2,1321.8 1354.5,1335.5 1355.6,1335.9 1350.2,1353.2 1350.6,1363.0 1347.9,1363.4 1353.6,1391.6 1355.0,1407.9 1364.9,1439.0 1343.3,1478.6 1324.6,1486.5 1313.8,1497.6 1293.7,1501.6 1292.5,1499.1 1289.5,1538.2 1254.2,1544.9 1270.9,1526.3 1273.4,1566.2 1246.6,1578.1 1249.3,1583.2" fill="none" stroke="#c4c2ca" stroke-width="1.3" stroke-linejoin="round" opacity="0.5"/>
<polyline points="1440.3,1563.8 1451.7,1539.7 1467.2,1538.5 1485.6,1530.9 1495.2,1512.2 1517.3,1496.2 1531.6,1484.9 1547.0,1459.2 1559.5,1437.2 1586.6,1428.9 1602.5,1421.0 1628.7,1413.8 1668.7,1387.0 1714.4,1352.5 1741.6,1340.8 1769.3,1324.0 1803.8,1306.7" fill="none" stroke="#c4c2ca" stroke-width="1.3" stroke-linejoin="round" opacity="0.5"/>
<polyline points="1423.7,1556.8 1439.0,1527.0 1463.0,1521.0 1473.8,1517.2 1481.9,1500.1 1506.5,1481.9 1517.6,1473.6 1531.3,1450.5 1548.7,1422.7 1580.5,1412.0 1596.4,1404.0 1620.5,1397.8 1658.3,1372.3 1704.8,1337.3 1733.3,1324.8 1760.7,1308.2 1795.8,1290.6" fill="none" stroke="#c4c2ca" stroke-width="1.3" stroke-linejoin="round" opacity="0.5"/>
<polyline points="1805.7,838.1 1781.1,829.4 1755.4,813.8 1734.8,794.7 1706.7,784.3 1688.9,747.4 1684.1,725.0 1666.2,707.9 1649.0,687.3 1645.5,678.1 1627.4,669.0 1620.0,644.4 1624.0,629.0 1622.7,615.9 1600.2,598.0 1596.1,569.8 1584.7,552.0 1553.2,541.8 1545.0,502.7 1550.0,479.4 1547.3,454.8 1539.0,418.2 1550.4,394.4 1533.2,390.2 1528.0,354.5 1529.0,315.9 1526.9,305.6 1508.5,279.8 1514.1,251.0 1514.0,226.9 1517.8,212.9 1503.2,187.6 1470.5,179.5 1462.7,161.2 1445.8,150.1" fill="none" stroke="#c4c2ca" stroke-width="1.3" stroke-linejoin="round" opacity="0.5"/>
<polyline points="1799.8,855.1 1773.3,845.7 1744.5,828.1 1725.6,810.2 1694.0,797.0 1672.0,753.4 1668.6,734.0 1653.0,720.1 1634.3,697.7 1633.7,691.7 1614.4,681.4 1602.0,643.8 1606.0,629.0 1607.7,625.9 1584.6,607.1 1579.3,576.4 1574.2,566.6 1539.9,554.0 1527.0,502.3 1532.0,478.7 1529.5,458.0 1521.0,417.3 1532.8,398.2 1517.8,399.4 1510.0,355.0 1511.0,316.8 1511.1,314.1 1491.0,284.1 1496.3,248.8 1496.1,225.7 1500.6,218.4 1492.1,201.8 1460.8,194.7 1448.8,172.7 1435.5,164.9" fill="none" stroke="#c4c2ca" stroke-width="1.3" stroke-linejoin="round" opacity="0.5"/>
<polyline points="303.8,190.9 328.5,206.3 348.1,226.0 369.1,237.2 379.0,254.0 400.0,266.0 421.0,263.8 449.0,257.0 460.2,247.0 472.9,242.8 479.9,231.6 484.0,214.7 482.7,207.7 465.8,189.5 460.2,181.1 449.0,160.0 449.0,147.5 456.0,137.0" fill="none" stroke="#c9c7cc" stroke-width="1.5" stroke-linejoin="round" opacity="0.85"/>
<polyline points="303.8,384.4 320.1,398.4 342.5,405.4 369.1,416.6 390.2,436.2 401.4,437.6 400.0,429.2 407.0,408.2 418.2,408.2 429.4,418.0 440.6,419.4 460.2,406.8 477.1,411.0 510.7,426.4 533.1,420.8 558.4,422.2 589.2,412.4 625.6,413.8 639.7,402.6 667.7,388.6 687.3,377.3 692.9,366.1 718.2,352.1 740.6,341.0 751.8,329.7 771.4,315.7 792.0,310.0 820.0,305.9 850.9,298.8 870.5,290.4 887.3,286.2 912.5,290.4 916.8,279.2 914.0,268.0 929.4,254.0 932.2,242.8 937.8,223.2 935.0,206.3 932.2,181.1 937.8,167.1 954.6,150.3 940.6,141.9 940.6,137.0" fill="none" stroke="#c9c7cc" stroke-width="1.5" stroke-linejoin="round" opacity="0.85"/>
<polyline points="552.9,901.0 595.0,886.3 637.2,892.6 679.3,909.5 721.5,930.6 763.6,955.9 805.8,989.6 835.3,1023.3 860.6,1069.7 881.7,1124.5 894.3,1175.0 923.8,1200.3 957.5,1251.0 991.3,1284.6 1016.5,1326.8 1041.8,1377.4 1058.7,1428.0 1075.5,1478.5 1092.4,1537.5 1088.0,1580.0" fill="none" stroke="#b3aaab" stroke-width="1.3" stroke-linejoin="round" opacity="0.8"/>
<polyline points="1532.0,137.0 1543.0,181.0 1554.5,223.0 1563.0,265.0 1571.0,310.0 1580.0,349.0 1591.0,391.0 1602.0,433.0 1616.0,475.5 1630.0,517.5 1647.0,560.0 1664.0,602.0 1683.5,641.0 1705.9,677.5 1728.3,711.0 1756.3,739.0 1795.6,767.0 1812.0,778.0" fill="none" stroke="#b3aaab" stroke-width="1.3" stroke-linejoin="round" opacity="0.8"/>
<polyline points="304.0,1049.0 332.0,1028.0 366.0,994.0 371.0,976.0 388.0,969.0 410.0,959.0 430.0,961.0 451.0,976.0 486.0,966.0 509.0,950.0 534.0,916.0 551.0,896.0 570.0,882.0 598.0,874.0 626.0,863.0 660.0,850.0 688.0,854.0 702.0,864.0 719.0,857.0 733.0,868.0 767.0,877.0 790.0,881.0 812.0,889.0 838.0,891.0 852.0,900.0 880.0,899.0 882.0,919.0 896.0,936.0 908.0,945.0 939.0,951.0 964.0,966.0 983.0,972.0 997.0,966.0 1003.0,948.0 1023.0,950.0 1059.0,969.0 1087.0,985.0 1107.0,994.0 1121.0,1022.0 1138.0,1034.0" fill="none" stroke="#b3aaab" stroke-width="1.3" stroke-linejoin="round" opacity="0.8"/>
<g filter="url(#b12)"><polygon points="1492.0,1580.0 1515.0,1552.0 1540.0,1532.0 1572.0,1502.0 1598.0,1478.0 1640.0,1462.0 1690.0,1432.0 1735.0,1398.0 1780.0,1374.0 1820.0,1356.0 1820.0,1580.0" fill="#f1f5f6"/></g>
<polygon points="1811.0,1377.0 1793.0,1383.0 1777.0,1397.0 1754.0,1408.0 1737.0,1433.0 1704.0,1461.0 1687.0,1478.0 1690.0,1506.0 1687.0,1526.0 1704.0,1534.0 1709.0,1545.0 1720.0,1554.0 1720.0,1565.0 1718.0,1570.0 1811.0,1570.0" fill="#ffffff"/>
<polyline points="304.0,1025.0 332.0,1004.0 366.0,970.0 371.0,952.0 388.0,945.0 410.0,935.0 430.0,937.0 451.0,952.0 486.0,942.0 509.0,926.0 534.0,892.0 551.0,872.0 570.0,858.0 598.0,850.0 626.0,839.0 660.0,826.0 688.0,830.0 702.0,840.0 719.0,833.0 733.0,844.0 767.0,853.0 790.0,857.0 812.0,865.0 838.0,867.0 852.0,876.0 880.0,875.0 882.0,895.0 896.0,912.0 908.0,921.0 939.0,927.0 964.0,942.0 983.0,948.0 997.0,942.0 1003.0,924.0 1023.0,926.0 1059.0,945.0 1087.0,961.0 1107.0,970.0 1121.0,998.0 1138.0,1010.0 1140.0,1032.0 1152.0,1047.0 1132.0,1057.0 1129.0,1074.0 1126.0,1097.0 1114.0,1110.0 1120.0,1125.0 1111.0,1142.0 1117.0,1164.0 1106.0,1187.0 1106.0,1209.0 1120.0,1226.0 1142.0,1241.0 1176.0,1237.0 1184.0,1233.0 1195.0,1238.0 1226.0,1231.0 1237.0,1212.0 1260.0,1198.0 1265.0,1164.0 1293.0,1153.0 1306.0,1150.0 1322.0,1121.0 1356.0,1090.0 1381.0,1107.0 1406.0,1112.0 1406.0,1158.0 1412.0,1178.0 1416.0,1198.0 1412.0,1217.0 1401.0,1243.0 1390.0,1265.0 1364.0,1276.0 1359.0,1299.0 1336.0,1307.0 1325.0,1321.0 1317.0,1346.0 1317.0,1358.0 1314.0,1366.0 1320.0,1397.0 1322.0,1416.0 1331.0,1442.0 1325.0,1450.0 1306.0,1458.0 1299.0,1467.0 1277.0,1472.0 1260.0,1489.0 1263.0,1517.0 1240.0,1514.0 1237.0,1529.0 1243.0,1551.0 1226.0,1551.0 1218.0,1570.0" fill="none" stroke="#000" stroke-width="6" stroke-linejoin="round"/>
<polyline points="1455.0,1570.0 1463.0,1551.0 1471.0,1554.0 1496.0,1543.0 1507.0,1523.0 1527.0,1509.0 1544.0,1495.0 1561.0,1467.0 1569.0,1450.0 1592.0,1444.0 1608.0,1436.0 1636.0,1428.0 1678.0,1400.0 1723.0,1366.0 1749.0,1355.0 1777.0,1338.0 1811.0,1321.0" fill="none" stroke="#000" stroke-width="6" stroke-linejoin="round"/>
<polyline points="1811.0,823.0 1788.0,815.0 1765.0,801.0 1743.0,781.0 1718.0,773.0 1704.0,742.0 1698.0,717.0 1678.0,697.0 1662.0,678.0 1656.0,666.0 1639.0,658.0 1636.0,645.0 1640.0,629.0 1636.0,607.0 1614.0,590.0 1611.0,564.0 1594.0,539.0 1565.0,531.0 1561.0,503.0 1566.0,480.0 1563.0,452.0 1555.0,419.0 1566.0,391.0 1547.0,382.0 1544.0,354.0 1545.0,315.0 1541.0,298.0 1524.0,276.0 1530.0,253.0 1530.0,228.0 1533.0,208.0 1513.0,175.0 1479.0,166.0 1475.0,151.0 1455.0,137.0" fill="none" stroke="#000" stroke-width="6" stroke-linejoin="round"/>
<polyline points="1811.0,955.0 1808.0,954.0 1802.0,946.0 1797.0,935.0 1796.0,922.0 1801.0,913.0 1811.0,909.0" fill="none" stroke="#000" stroke-width="6" stroke-linejoin="round"/>
<polyline points="1811.0,1377.0 1793.0,1383.0 1777.0,1397.0 1754.0,1408.0 1737.0,1433.0 1704.0,1461.0 1687.0,1478.0 1690.0,1506.0 1687.0,1526.0 1704.0,1534.0 1709.0,1545.0 1720.0,1554.0 1720.0,1565.0 1718.0,1570.0" fill="none" stroke="#000" stroke-width="6" stroke-linejoin="round"/>
<ellipse cx="517" cy="845" rx="27" ry="18" transform="rotate(-15 517 845)" fill="none" stroke="#000" stroke-width="6"/>
<ellipse cx="1196" cy="1502" rx="9" ry="7.5" fill="#000"/>
<ellipse cx="1163" cy="1003" rx="6" ry="5" fill="none" stroke="#000" stroke-width="4"/>
<polyline points="1811.0,933.0 1737.0,891.0 1673.0,826.0 1636.0,793.0 1594.0,742.0 1524.0,678.0 1479.0,630.0 1420.0,572.0 1380.0,535.0 1330.0,490.0 1295.0,456.0 1247.0,412.0 1197.0,382.0 1168.0,364.0 1098.0,336.0 1048.0,313.0 1020.0,291.0 986.0,277.0 944.0,256.0 925.0,252.0 868.0,249.0 818.0,255.0 775.0,271.0 719.0,294.0 685.0,316.0 671.0,341.0 632.0,386.0 624.0,414.0 614.0,465.0 610.0,529.0 615.0,560.0 624.0,597.0 632.0,625.0 654.0,676.0 682.0,718.0 710.0,777.0 750.0,850.0 783.0,912.0 810.0,965.0 846.0,1018.0 869.0,1057.0 890.0,1083.0 907.0,1107.0 968.0,1181.0 996.0,1215.0 1038.0,1273.0 1052.0,1290.0 1080.0,1338.0 1108.0,1388.0 1136.0,1467.0 1153.0,1529.0 1159.0,1573.0" fill="none" stroke="#ff00ff" stroke-width="6" stroke-linejoin="round"/>
<polyline points="1811.0,1025.0 1777.0,1008.0 1720.0,975.0 1698.0,958.0 1636.0,944.0 1597.0,927.0 1580.0,910.0 1496.0,832.0 1412.0,773.0 1378.0,748.0 1328.0,714.0 1300.0,692.0 1270.0,662.0 1210.0,636.0 1177.0,625.0 1143.0,608.0 1121.0,602.0 1048.0,595.0 1014.0,597.0 967.0,616.0 944.0,640.0 916.0,665.0 896.0,710.0 885.0,766.0 888.0,816.0 902.0,867.0 922.0,914.0 944.0,956.0 969.0,1007.0 986.0,1040.0 1010.0,1080.0 1019.0,1102.0 1080.0,1198.0 1108.0,1248.0 1134.0,1299.0 1164.0,1388.0 1187.0,1464.0 1201.0,1529.0 1204.0,1573.0" fill="none" stroke="#ff00ff" stroke-width="6" stroke-linejoin="round"/>
<polyline points="1811.0,1150.0 1749.0,1132.0 1706.0,1121.0 1664.0,1109.0 1622.0,1101.0 1566.0,1090.0 1524.0,1070.0 1496.0,1053.0 1468.0,1045.0 1420.0,1022.0 1395.0,1008.0 1356.0,1036.0 1325.0,1070.0 1311.0,1107.0 1300.0,1150.0 1299.0,1172.0 1291.0,1220.0 1282.0,1346.0 1274.0,1416.0 1265.0,1500.0 1256.0,1573.0" fill="none" stroke="#ff00ff" stroke-width="6" stroke-linejoin="round"/>
<polyline points="304.0,418.0 395.0,433.0 600.0,462.0 715.0,567.0 610.0,670.0 460.0,715.0 370.0,853.0" fill="none" stroke="#00fa7d" stroke-width="6.5" stroke-dasharray="6.5 4.3"/>
<polyline points="812.0,760.0 832.0,704.0 846.0,620.0 860.0,563.0 826.0,465.0 812.0,425.0 812.0,277.0 818.0,271.0 905.0,197.0 1056.0,151.0 1208.0,182.0 1239.0,210.0 1310.0,271.0 1328.0,290.0 1384.0,349.0 1418.0,394.0 1437.0,416.0 1468.0,433.0 1510.0,452.0" fill="none" stroke="#00fa7d" stroke-width="6.5" stroke-dasharray="6.5 4.3"/>
<polyline points="882.0,822.0 902.0,746.0 925.0,676.0 947.0,620.0 969.0,569.0 964.0,540.0 964.0,421.0 1053.0,277.0 1070.0,281.0 1155.0,327.0 1205.0,353.0 1227.0,372.0 1255.0,409.0 1283.0,426.0 1310.0,442.0 1356.0,472.0 1412.0,494.0 1468.0,511.0 1510.0,525.0" fill="none" stroke="#00fa7d" stroke-width="6.5" stroke-dasharray="6.5 4.3"/>
<polyline points="947.0,850.0 981.0,760.0 1003.0,687.0 1031.0,620.0 1059.0,580.0 1126.0,549.0 1208.0,515.0 1310.0,557.0 1398.0,590.0 1468.0,618.0 1592.0,650.0" fill="none" stroke="#00fa7d" stroke-width="6.5" stroke-dasharray="6.5 4.3"/>
<polyline points="1009.0,850.0 1034.0,788.0 1056.0,738.0 1199.0,634.0 1208.0,628.0 1310.0,651.0 1356.0,661.0 1468.0,711.0 1524.0,748.0 1580.0,798.0 1665.0,877.0 1720.0,933.0 1777.0,994.0 1811.0,1025.0" fill="none" stroke="#00fa7d" stroke-width="6.5" stroke-dasharray="6.5 4.3"/>
<polyline points="1063.0,856.0 1199.0,738.0 1210.0,729.0 1300.0,745.0 1356.0,753.0 1384.0,770.0 1440.0,809.0 1524.0,882.0 1608.0,966.0 1665.0,1022.0 1720.0,1079.0 1749.0,1164.0 1811.0,1240.0" fill="none" stroke="#00fa7d" stroke-width="6.5" stroke-dasharray="6.5 4.3"/>
<polyline points="1112.0,903.0 1207.0,829.0 1300.0,838.0 1358.0,846.0 1411.0,905.0 1487.0,963.0 1521.0,989.0 1540.0,1019.0 1552.0,1048.0 1566.0,1090.0 1577.0,1119.0 1599.0,1156.0 1641.0,1226.0 1667.0,1282.0 1655.0,1324.0 1641.0,1366.0 1622.0,1425.0" fill="none" stroke="#00fa7d" stroke-width="6.5" stroke-dasharray="6.5 4.3"/>
<polyline points="1166.0,947.0 1208.0,913.0 1300.0,929.0 1355.0,938.0 1423.0,994.0 1431.0,1014.0 1440.0,1036.0 1451.0,1076.0 1465.0,1119.0 1487.0,1184.0 1515.0,1232.0 1535.0,1282.0 1510.0,1319.0 1445.0,1365.0" fill="none" stroke="#00fa7d" stroke-width="6.5" stroke-dasharray="6.5 4.3"/>
<polyline points="1482.0,256.0 1509.0,298.0" fill="none" stroke="#00fa7d" stroke-width="6.5" stroke-dasharray="6.5 4.3"/>
<path d="M304.0 137.0L308.9 144.7M306.6 142.6L308.9 144.7L308.0 141.8M304.0 280.3L320.1 284.3M314.6 284.4L320.1 284.3L315.3 281.6M304.0 638.6L304.1 653.7M302.8 648.8L304.1 653.7L305.4 648.8M304.0 710.2L322.0 720.4M315.4 718.7L322.0 720.4L317.1 715.6M304.0 781.9L320.9 768.0M316.7 773.9L320.9 768.0L314.3 771.0M304.0 853.5L313.6 840.7M311.7 845.6L313.6 840.7L309.4 843.9M304.0 925.2L322.3 894.8M319.1 906.1L322.3 894.8L313.8 902.9M304.0 996.8L339.1 962.6M330.8 976.6L339.1 962.6L324.9 970.5M304.0 1068.5L343.3 1041.4M333.1 1053.4L343.3 1041.4L328.4 1046.6M379.4 137.0L393.5 162.9M386.8 155.8L393.5 162.9L391.2 153.4M379.4 208.7L391.6 241.4M384.8 232.0L391.6 241.4L390.5 229.9M379.4 280.3L406.4 312.9M394.9 304.8L406.4 312.9L400.6 300.1M379.4 352.0L385.4 385.8M380.5 375.5L385.4 385.8L386.4 374.4M379.4 423.6L339.7 440.4M350.9 431.6L339.7 440.4L353.8 438.5M379.4 495.2L311.7 488.9M333.9 485.1L311.7 488.9L332.8 496.8M379.4 566.9L322.9 566.9M341.0 562.0L322.9 566.9L341.0 571.8M379.4 638.6L384.0 648.9M381.6 646.0L384.0 648.9L383.4 645.2M379.4 710.2L418.8 710.3M406.1 713.7L418.8 710.3L406.2 706.9M379.4 781.9L406.4 772.8M398.5 778.0L406.4 772.8L397.0 773.4M379.4 853.5L398.0 826.6M394.4 836.8L398.0 826.6L389.7 833.6M379.4 925.2L404.2 895.6M398.8 907.2L404.2 895.6L393.7 902.9M379.4 996.8L407.5 926.4M404.6 951.4L407.5 926.4L392.4 946.5M454.8 137.0L462.2 190.9M455.2 174.3L462.2 190.9L464.5 173.0M454.8 208.7L474.3 253.4M464.1 240.8L474.3 253.4L471.9 237.4M454.8 280.3L498.9 305.0M482.7 300.9L498.9 305.0L486.9 293.3M454.8 352.0L500.1 376.8M483.4 372.8L500.1 376.8L487.7 364.9M454.8 423.6L449.0 404.5M452.5 410.1L449.0 404.5L449.2 411.1M454.8 495.2L384.0 486.7M407.4 483.3L384.0 486.7L405.9 495.5M454.8 566.9L412.6 568.0M426.0 564.0L412.6 568.0L426.2 571.3M454.8 638.6L475.7 642.5M468.6 643.0L475.7 642.5L469.3 639.4M454.8 710.2L502.9 706.9M487.7 712.1L502.9 706.9L487.2 703.8M454.8 781.9L515.8 764.4M497.7 775.3L515.8 764.4L494.7 764.7M454.8 853.5L481.8 819.1M476.1 832.4L481.8 819.1L470.2 827.7M454.8 925.2L470.1 892.0M468.0 903.9L470.1 892.0L462.3 901.3M454.8 996.8L436.4 974.7M444.2 980.2L436.4 974.7L440.4 983.3M530.1 137.0L527.5 158.7M526.5 151.5L527.5 158.7L530.2 152.0M530.1 208.7L564.0 223.2M551.9 221.4L564.0 223.2L554.4 215.6M530.1 280.3L590.6 265.8M572.5 275.6L590.6 265.8L570.0 265.2M530.1 352.0L582.2 312.3M569.0 329.5L582.2 312.3L562.1 320.5M530.1 423.6L522.5 404.0M526.6 409.6L522.5 404.0L523.2 410.9M530.1 495.2L467.3 478.8M488.8 478.7L467.3 478.8L486.0 489.5M530.1 566.9L482.1 553.1M498.7 553.4L482.1 553.1L496.3 561.7M530.1 638.6L545.2 628.4M541.2 633.0L545.2 628.4L539.5 630.4M530.1 710.2L589.8 701.3M571.4 709.3L589.8 701.3L569.9 699.0M530.1 781.9L573.8 777.6M560.2 782.7L573.8 777.6L559.4 775.2M530.1 853.5L548.6 838.7M543.9 845.0L548.6 838.7L541.4 841.8M530.1 925.2L512.1 950.8M515.7 941.1L512.1 950.8L520.1 944.2M605.5 208.7L636.9 181.7M629.2 193.0L636.9 181.7L624.5 187.6M605.5 280.3L667.7 248.4M650.6 264.0L667.7 248.4L645.0 253.2M605.5 352.0L651.7 304.5M641.0 323.6L651.7 304.5L632.8 315.7M605.5 423.6L610.8 399.2M611.2 407.5L610.8 399.2L607.0 406.6M605.5 495.2L568.2 469.9M582.3 474.8L568.2 469.9L577.9 481.2M605.5 566.9L564.0 541.4M579.5 545.9L564.0 541.4L575.1 553.1M605.5 638.6L616.7 618.1M614.9 625.6L616.7 618.1L611.3 623.7M605.5 710.2L659.3 710.3M642.1 714.9L659.3 710.3L642.1 705.6M605.5 781.9L660.7 781.8M643.0 786.6L660.7 781.8L643.0 777.0M605.5 853.5L618.6 853.6M614.4 854.7L618.6 853.6L614.4 852.4M605.5 925.2L580.8 941.0M587.3 933.8L580.8 941.0L590.1 938.1M680.9 208.7L732.2 155.0M720.4 176.6L732.2 155.0L711.1 167.8M680.9 280.3L761.6 206.3M742.2 237.0L761.6 206.3L729.4 223.0M680.9 352.0L733.0 298.0M721.0 319.8L733.0 298.0L711.7 310.8M680.9 423.6L678.4 373.1M683.5 389.1L678.4 373.1L674.8 389.5M680.9 495.2L645.3 455.8M660.1 465.4L645.3 455.8L653.3 471.5M680.9 566.9L611.6 521.7M637.7 530.2L611.6 521.7L629.9 542.2M680.9 638.6L679.5 607.4M682.6 617.3L679.5 607.4L677.2 617.5M680.9 710.2L723.8 706.4M710.4 711.3L723.8 706.4L709.7 703.9M680.9 781.9L728.0 786.3M712.5 788.9L728.0 786.3L713.3 780.8M680.9 853.5L699.1 854.1M693.2 855.5L699.1 854.1L693.3 852.3M756.2 208.7L834.1 147.7M814.5 173.9L834.1 147.7L804.0 160.4M756.2 280.3L800.6 231.3M790.7 250.8L800.6 231.3L782.2 243.1M756.2 352.0L799.2 319.8M788.3 333.8L799.2 319.8L782.7 326.3M756.2 423.6L740.6 407.6M747.0 411.4L740.6 407.6L744.2 414.1M756.2 495.2L718.7 457.8M734.0 466.5L718.7 457.8L727.5 473.0M756.2 566.9L698.0 508.3M721.7 522.0L698.0 508.3L711.6 532.1M756.2 638.6L737.8 599.0M747.1 610.1L737.8 599.0L740.3 613.3M756.2 710.2L772.8 698.5M768.5 703.7L772.8 698.5L766.5 700.8M756.2 853.5L780.7 863.4M772.0 862.3L780.7 863.4L773.7 858.1M831.6 208.7L871.3 197.4M859.6 204.4L871.3 197.4L857.7 197.5M831.6 280.3L887.3 283.4M869.2 287.2L887.3 283.4L869.8 277.6M831.6 352.0L862.9 342.9M853.7 348.5L862.9 342.9L852.1 343.1M831.6 423.6L810.2 420.2M817.4 419.5L810.2 420.2L816.8 423.2M831.6 495.2L802.7 478.3M813.4 481.2L802.7 478.3L810.5 486.2M831.6 566.9L792.0 534.3M807.5 541.3L792.0 534.3L801.9 548.2M831.6 638.6L796.2 602.4M810.7 610.9L796.2 602.4L804.4 617.0M831.6 710.2L835.5 698.5M835.2 702.6L835.5 698.5L833.2 701.9M831.6 781.9L844.7 786.0M840.2 785.8L844.7 786.0L840.9 783.5M831.6 853.5L866.3 870.9M853.7 868.4L866.3 870.9L856.7 862.4M831.6 925.2L851.4 955.6M842.5 947.6L851.4 955.6L847.7 944.1M907.0 137.0L931.3 190.9M918.9 175.8L931.3 190.9L928.2 171.6M907.0 208.7L944.8 278.7M926.6 259.5L944.8 278.7L938.7 253.0M907.0 280.3L959.4 347.4M936.8 330.4L959.4 347.4L948.4 321.4M907.0 352.0L935.8 406.8M921.9 391.7L935.8 406.8L931.3 386.7M907.0 423.6L893.5 450.2M895.5 440.5L893.5 450.2L900.1 442.9M907.0 495.2L892.4 511.9M895.6 505.3L892.4 511.9L898.5 507.8M907.0 566.9L877.5 561.0M887.5 560.3L877.5 561.0L886.4 565.4M907.0 638.6L872.5 625.6M884.6 626.8L872.5 625.6L882.4 632.8M907.0 710.2L894.3 705.5M898.8 705.9L894.3 705.5L898.0 708.1M907.0 781.9L893.5 777.6M898.2 777.8L893.5 777.6L897.4 780.1M907.0 853.5L946.8 869.5M932.6 867.8L946.8 869.5L935.4 861.0M907.0 925.2L932.7 936.8M923.5 935.3L932.7 936.8L925.5 930.9M982.4 137.0L982.1 195.7M977.1 176.9L982.1 195.7L987.2 176.9M982.4 208.7L1000.9 303.1M986.8 274.4L1000.9 303.1L1003.1 271.2M982.4 280.3L1027.5 378.7M1004.5 351.1L1027.5 378.7L1021.6 343.3M982.4 352.0L1054.1 441.8M1023.4 419.3L1054.1 441.8L1038.9 406.9M982.4 423.6L999.5 478.3M989.3 462.3L999.5 478.3L998.7 459.3M982.4 495.2L967.2 532.9M968.8 519.6L967.2 532.9L975.3 522.2M982.4 566.9L959.6 603.0M963.8 589.5L959.6 603.0L970.0 593.4M982.4 638.6L946.2 651.7M956.6 644.4L946.2 651.7L958.9 650.6M982.4 710.2L963.9 730.8M968.0 722.6L963.9 730.8L971.6 725.8M982.4 781.9L991.0 812.1M985.7 803.1L991.0 812.1L990.9 801.6M982.4 853.5L1008.7 864.8M999.3 863.4L1008.7 864.8L1001.3 858.9M982.4 925.2L1023.3 949.4M1008.1 945.2L1023.3 949.4L1012.3 938.1M982.4 996.8L1040.1 1000.5M1021.3 1004.3L1040.1 1000.5L1021.9 994.3M1057.8 137.0L1026.1 182.5M1032.3 165.2L1026.1 182.5L1040.2 170.7M1057.8 208.7L1050.5 278.7M1046.8 255.6L1050.5 278.7L1058.9 256.9M1057.8 280.3L1095.5 368.1M1075.9 343.3L1095.5 368.1L1091.0 336.7M1057.8 352.0L1126.3 438.3M1096.9 416.6L1126.3 438.3L1111.9 404.7M1057.8 423.6L1113.0 508.6M1088.0 486.1L1113.0 508.6L1102.7 476.6M1057.8 495.2L1059.7 550.3M1054.3 532.9L1059.7 550.3L1063.9 532.5M1057.8 566.9L1031.3 632.1M1034.2 609.0L1031.3 632.1L1045.4 613.5M1057.8 638.6L1028.9 692.9M1033.4 673.0L1028.9 692.9L1042.8 678.0M1057.8 710.2L1025.5 738.3M1033.4 726.5L1025.5 738.3L1038.3 732.1M1057.8 781.9L1069.0 812.6M1062.7 803.7L1069.0 812.6L1068.0 801.8M1057.8 853.5L1090.6 895.3M1076.5 884.8L1090.6 895.3L1083.7 879.1M1057.8 925.2L1100.4 966.3M1083.2 956.8L1100.4 966.3L1090.3 949.4M1057.8 996.8L1104.0 1050.9M1084.6 1037.6L1104.0 1050.9L1093.9 1029.6M1057.8 1068.5L1047.1 1098.0M1048.0 1087.6L1047.1 1098.0L1053.1 1089.5M1057.8 1140.1L1056.9 1168.7M1054.7 1159.5L1056.9 1168.7L1059.7 1159.6M1057.8 1211.8L1085.0 1234.6M1074.3 1229.6L1085.0 1234.6L1078.2 1224.9M1057.8 1283.4L1100.4 1250.8M1089.6 1264.9L1100.4 1250.8L1083.9 1257.6M1133.1 137.0L1080.8 156.4M1095.8 145.7L1080.8 156.4L1099.2 154.7M1133.1 208.7L1097.6 231.6M1107.0 221.2L1097.6 231.6L1110.9 227.3M1133.1 280.3L1157.9 329.7M1145.7 316.0L1157.9 329.7L1154.2 311.7M1133.1 352.0L1199.3 413.8M1172.8 399.7L1199.3 413.8L1183.5 388.3M1133.1 423.6L1193.5 502.1M1167.4 482.2L1193.5 502.1L1180.9 471.8M1133.1 495.2L1162.6 564.6M1147.2 545.0L1162.6 564.6L1159.2 539.9M1133.1 566.9L1139.0 627.7M1131.9 608.8L1139.0 627.7L1142.4 607.7M1133.1 638.6L1104.6 681.1M1110.0 665.0L1104.6 681.1L1117.4 670.0M1133.1 710.2L1125.1 766.6M1122.8 747.9L1125.1 766.6L1132.5 749.3M1133.1 781.9L1123.7 833.9M1122.2 816.4L1123.7 833.9L1131.2 818.1M1133.1 853.5L1189.5 920.0M1165.7 903.6L1189.5 920.0L1177.2 893.8M1133.1 925.2L1227.1 1018.1M1189.0 996.5L1227.1 1018.1L1205.1 980.3M1133.1 996.8L1205.5 1065.8M1176.4 1050.0L1205.5 1065.8L1188.3 1037.5M1133.1 1068.5L1148.0 1106.4M1140.0 1095.6L1148.0 1106.4L1146.5 1093.0M1133.1 1211.8L1152.2 1216.3M1145.7 1216.5L1152.2 1216.3L1146.5 1213.2M1133.1 1283.4L1202.7 1296.8M1179.3 1298.5L1202.7 1296.8L1181.6 1286.5M1208.5 208.7L1157.9 178.3M1176.7 183.6L1157.9 178.3L1171.4 192.4M1208.5 280.3L1192.3 271.7M1198.3 273.0L1192.3 271.7L1196.8 275.8M1208.5 352.0L1242.0 380.7M1228.8 374.4L1242.0 380.7L1233.7 368.6M1208.5 423.6L1250.9 487.2M1231.9 470.5L1250.9 487.2L1242.9 463.2M1208.5 495.2L1261.7 572.0M1238.0 552.1L1261.7 572.0L1251.3 542.9M1208.5 566.9L1235.1 630.4M1221.1 612.4L1235.1 630.4L1232.1 607.8M1208.5 638.6L1194.9 673.3M1196.2 661.0L1194.9 673.3L1202.2 663.4M1208.5 710.2L1171.9 742.5M1180.8 729.0L1171.9 742.5L1186.4 735.4M1208.5 781.9L1201.3 865.3M1196.4 838.0L1201.3 865.3L1210.8 839.2M1208.5 853.5L1245.3 948.9M1225.3 921.5L1245.3 948.9L1241.8 915.2M1208.5 925.2L1298.0 1015.3M1261.6 994.2L1298.0 1015.3L1277.2 978.7M1208.5 996.8L1312.8 1087.6M1271.6 1067.6L1312.8 1087.6L1287.3 1049.5M1208.5 1068.5L1272.8 1105.4M1249.0 1099.1L1272.8 1105.4L1255.4 1088.0M1208.5 1211.8L1229.3 1192.5M1224.3 1200.5L1229.3 1192.5L1221.0 1196.9M1208.5 1283.4L1223.7 1266.2M1220.3 1273.1L1223.7 1266.2L1217.4 1270.4M1283.9 208.7L1223.7 157.3M1247.4 168.5L1223.7 157.3L1238.5 178.9M1283.9 280.3L1253.2 242.8M1266.2 252.1L1253.2 242.8L1259.8 257.4M1283.9 352.0L1291.9 340.9M1290.3 345.1L1291.9 340.9L1288.4 343.7M1283.9 423.6L1314.7 442.4M1303.2 439.0L1314.7 442.4L1306.4 433.7M1283.9 495.2L1323.7 536.5M1307.4 526.7L1323.7 536.5L1314.5 519.8M1283.9 566.9L1323.7 606.0M1307.6 596.9L1323.7 606.0L1314.3 590.0M1283.9 638.6L1288.8 666.3M1284.8 657.8L1288.8 666.3L1289.6 657.0M1283.9 710.2L1223.7 733.6M1241.0 720.9L1223.7 733.6L1245.0 731.3M1283.9 781.9L1242.0 812.1M1252.8 798.8L1242.0 812.1L1258.0 806.0M1283.9 853.5L1284.0 925.6M1277.7 902.5L1284.0 925.6L1290.2 902.5M1283.9 925.2L1379.2 994.9M1342.7 980.8L1379.2 994.9L1354.7 964.3M1283.9 996.8L1406.6 1047.4M1362.9 1041.8L1406.6 1047.4L1371.7 1020.6M1283.9 1068.5L1408.7 1097.0M1366.3 1098.6L1408.7 1097.0L1371.2 1077.0M1283.9 1140.1L1314.9 1091.6M1309.1 1109.8L1314.9 1091.6L1300.8 1104.4M1283.9 1211.8L1342.9 1127.8M1331.3 1159.7L1342.9 1127.8L1316.7 1149.5M1283.9 1283.4L1303.9 1298.4M1296.2 1295.3L1303.9 1298.4L1298.8 1291.9M1283.9 1355.1L1306.4 1273.1M1306.3 1301.2L1306.4 1273.1L1292.1 1297.3M1283.9 1426.7L1185.3 1581.3M1203.5 1523.3L1185.3 1581.3L1230.2 1540.3M1283.9 1498.4L1227.9 1511.8M1244.6 1502.6L1227.9 1511.8L1247.0 1512.3M1283.9 1570.0L1404.9 1480.0M1373.9 1519.3L1404.9 1480.0L1358.4 1498.3M1359.2 208.7L1320.4 141.9M1338.6 159.9L1320.4 141.9L1327.1 166.6M1359.2 280.3L1319.0 211.9M1337.8 230.3L1319.0 211.9L1326.0 237.3M1359.2 352.0L1328.8 290.4M1343.9 307.5L1328.8 290.4L1333.2 312.8M1359.2 423.6L1366.7 390.0M1367.2 401.4L1366.7 390.0L1361.4 400.1M1359.2 495.2L1403.1 493.7M1389.2 498.0L1403.1 493.7L1388.9 490.4M1359.2 566.9L1403.1 584.8M1387.5 582.9L1403.1 584.8L1390.6 575.3M1359.2 638.6L1359.7 664.9M1357.2 656.5L1359.7 664.9L1361.8 656.4M1359.2 710.2L1319.0 712.5M1331.7 708.3L1319.0 712.5L1332.1 715.3M1359.2 781.9L1310.6 787.7M1325.7 781.6L1310.6 787.7L1326.7 790.0M1359.2 853.5L1360.5 872.3M1358.5 866.4L1360.5 872.3L1361.7 866.2M1359.2 925.2L1464.2 955.6M1428.0 954.9L1464.2 955.6L1433.3 936.8M1359.2 996.8L1512.4 1034.9M1460.1 1036.0L1512.4 1034.9L1466.7 1009.5M1359.2 1068.5L1551.1 1098.0M1487.2 1105.1L1551.1 1098.0L1492.3 1072.0M1359.2 1140.1L1477.4 1143.5M1439.3 1152.6L1477.4 1143.5L1439.9 1132.2M1359.2 1283.4L1377.9 1313.6M1369.3 1305.6L1377.9 1313.6L1374.5 1302.3M1359.2 1355.1L1307.2 1417.8M1318.5 1393.2L1307.2 1417.8L1329.3 1402.2M1359.2 1426.7L1357.7 1444.3M1356.7 1438.5L1357.7 1444.3L1359.7 1438.8M1359.2 1498.4L1347.0 1493.9M1351.3 1494.3L1347.0 1493.9L1350.6 1496.4M1359.2 1570.0L1322.8 1565.5M1334.9 1563.8L1322.8 1565.5L1334.1 1570.1M1434.6 208.7L1390.5 137.7M1410.7 156.6L1390.5 137.7L1398.5 164.2M1434.6 280.3L1401.7 209.1M1418.4 229.1L1401.7 209.1L1406.1 234.8M1434.6 352.0L1401.7 276.4M1418.8 297.7L1401.7 276.4L1405.7 303.4M1434.6 423.6L1423.3 356.3M1432.7 376.9L1423.3 356.3L1421.1 378.8M1434.6 495.2L1438.7 437.6M1442.4 456.4L1438.7 437.6L1432.4 455.7M1434.6 566.9L1451.6 522.6M1450.0 538.2L1451.6 522.6L1442.3 535.3M1434.6 638.6L1439.5 636.3M1438.2 637.4L1439.5 636.3L1437.8 636.6M1434.6 710.2L1405.3 712.5M1414.5 709.3L1405.3 712.5L1414.9 714.3M1434.6 781.9L1368.9 774.2M1390.6 771.0L1368.9 774.2L1389.3 782.3M1434.6 853.5L1427.8 823.3M1432.6 832.4L1427.8 823.3L1427.4 833.5M1434.6 925.2L1509.6 915.8M1486.4 925.3L1509.6 915.8L1484.8 912.3M1434.6 996.8L1589.5 998.5M1539.8 1011.3L1589.5 998.5L1540.1 984.6M1434.6 1068.5L1607.8 1072.8M1552.0 1086.4L1607.8 1072.8L1552.7 1056.4M1434.6 1140.1L1520.9 1165.0M1491.1 1164.5L1520.9 1165.0L1495.4 1149.6M1434.6 1211.8L1488.6 1187.7M1473.4 1200.1L1488.6 1187.7L1469.3 1190.8M1434.6 1283.4L1425.5 1276.6M1429.0 1278.0L1425.5 1276.6L1427.9 1279.6M1434.6 1355.1L1424.1 1354.6M1427.5 1353.8L1424.1 1354.6L1427.4 1355.6M1434.6 1426.7L1438.7 1449.9M1435.4 1442.8L1438.7 1449.9L1439.4 1442.1M1510.0 208.7L1479.8 110.0M1498.0 138.9L1479.8 110.0L1480.9 144.1M1510.0 280.3L1481.6 193.7M1498.2 219.0L1481.6 193.7L1483.2 223.9M1510.0 352.0L1485.0 258.2M1501.1 286.0L1485.0 258.2L1484.9 290.4M1510.0 423.6L1486.6 345.1M1500.9 368.2L1486.6 345.1L1487.3 372.2M1510.0 495.2L1497.0 434.8M1506.4 453.0L1497.0 434.8L1496.0 455.3M1510.0 566.9L1506.0 525.4M1510.9 538.3L1506.0 525.4L1503.7 539.0M1510.0 638.6L1495.1 610.2M1502.3 618.0L1495.1 610.2L1497.4 620.6M1510.0 710.2L1477.4 693.8M1489.3 696.2L1477.4 693.8L1486.4 701.8M1510.0 781.9L1477.4 758.2M1489.9 763.0L1477.4 758.2L1485.8 768.6M1510.0 853.5L1497.0 830.3M1503.2 836.6L1497.0 830.3L1499.2 838.8M1510.0 925.2L1561.5 892.5M1547.8 907.4L1561.5 892.5L1542.2 898.5M1510.0 996.8L1597.9 973.8M1571.8 988.8L1597.9 973.8L1567.8 973.6M1510.0 1068.5L1606.9 1081.8M1574.8 1085.9L1606.9 1081.8L1577.1 1069.1M1510.0 1140.1L1569.9 1147.7M1550.1 1150.4L1569.9 1147.7L1551.4 1140.1M1510.0 1211.8L1533.5 1212.7M1525.9 1214.4L1533.5 1212.7L1526.0 1210.4M1510.0 1283.4L1501.2 1288.7M1503.6 1286.2L1501.2 1288.7L1504.5 1287.7M1510.0 1355.1L1516.6 1361.3M1514.0 1359.9L1516.6 1361.3L1515.1 1358.7M1510.0 1426.7L1505.4 1439.2M1505.8 1434.8L1505.4 1439.2L1508.0 1435.6M1585.4 208.7L1558.7 137.7M1573.4 158.1L1558.7 137.7L1561.1 162.7M1585.4 280.3L1569.1 228.8M1578.7 243.8L1569.1 228.8L1569.8 246.7M1585.4 352.0L1570.5 262.4M1583.0 289.8L1570.5 262.4L1567.5 292.3M1585.4 423.6L1563.7 350.7M1577.0 372.2L1563.7 350.7L1564.4 375.9M1585.4 495.2L1554.5 431.2M1569.9 449.0L1554.5 431.2L1558.8 454.3M1585.4 566.9L1566.3 496.5M1578.5 517.4L1566.3 496.5L1566.3 520.7M1585.4 638.6L1570.5 608.8M1577.8 617.0L1570.5 608.8L1572.7 619.6M1585.4 710.2L1569.4 677.5M1577.3 686.6L1569.4 677.5L1571.7 689.3M1585.4 781.9L1555.9 751.8M1567.9 758.9L1555.9 751.8L1562.7 764.0M1585.4 853.5L1574.7 820.5M1581.0 830.1L1574.7 820.5L1575.2 832.0M1585.4 925.2L1613.4 885.0M1607.9 900.2L1613.4 885.0L1600.9 895.4M1585.4 996.8L1635.0 973.8M1621.1 985.5L1635.0 973.8L1617.1 976.9M1585.4 1068.5L1645.6 1044.8M1628.4 1057.5L1645.6 1044.8L1624.3 1047.1M1585.4 1140.1L1637.2 1138.7M1620.7 1143.6L1637.2 1138.7L1620.5 1134.7M1585.4 1283.4L1566.5 1291.5M1571.9 1287.3L1566.5 1291.5L1573.3 1290.5M1585.4 1355.1L1553.9 1366.3M1563.0 1360.0L1553.9 1366.3L1565.0 1365.4M1585.4 1426.7L1598.5 1423.8M1594.6 1425.9L1598.5 1423.8L1594.1 1423.6M1585.4 1498.4L1592.3 1477.1M1591.9 1484.5L1592.3 1477.1L1588.3 1483.3M1660.8 495.2L1619.5 409.6M1640.1 433.4L1619.5 409.6L1625.3 440.6M1660.8 566.9L1648.4 543.6M1654.4 550.0L1648.4 543.6L1650.3 552.1M1660.8 638.6L1631.6 596.2M1644.6 607.2L1631.6 596.2L1637.3 612.3M1660.8 710.2L1641.4 667.7M1651.3 679.6L1641.4 667.7L1643.9 683.0M1660.8 781.9L1639.2 756.0M1648.3 762.4L1639.2 756.0L1643.8 766.1M1660.8 853.5L1660.2 809.8M1664.1 823.7L1660.2 809.8L1656.6 823.8M1660.8 925.2L1673.6 881.6M1673.3 896.6L1673.6 881.6L1665.8 894.4M1660.8 996.8L1702.5 965.7M1691.8 979.3L1702.5 965.7L1686.5 972.0M1660.8 1068.5L1701.7 1060.2M1689.3 1066.4L1701.7 1060.2L1687.9 1059.3M1660.8 1140.1L1698.0 1149.1M1685.3 1149.4L1698.0 1149.1L1686.9 1143.0M1660.8 1211.8L1653.2 1230.4M1654.0 1223.8L1653.2 1230.4L1657.2 1225.1M1660.8 1283.4L1637.2 1304.7M1642.9 1295.8L1637.2 1304.7L1646.6 1299.9M1660.8 1355.1L1642.8 1360.2M1648.1 1357.0L1642.8 1360.2L1649.0 1360.1M1660.8 1426.7L1682.9 1411.2M1677.1 1418.1L1682.9 1411.2L1674.5 1414.2M1736.1 566.9L1728.3 608.6M1727.2 594.6L1728.3 608.6L1734.4 596.0M1736.1 638.6L1733.9 617.2M1736.5 623.9L1733.9 617.2L1732.8 624.2M1736.1 710.2L1719.3 681.7M1727.2 689.4L1719.3 681.7L1722.2 692.3M1736.1 781.9L1710.9 743.4M1722.3 753.5L1710.9 743.4L1715.7 757.9M1736.1 853.5L1742.9 826.6M1743.0 835.8L1742.9 826.6L1738.4 834.7M1736.1 925.2L1752.1 888.6M1750.2 901.7L1752.1 888.6L1743.9 898.9M1736.1 996.8L1757.2 969.6M1752.8 980.1L1757.2 969.6L1748.1 976.5M1736.1 1068.5L1769.0 1068.6M1758.4 1071.4L1769.0 1068.6L1758.5 1065.7M1736.1 1140.1L1759.1 1158.3M1750.2 1154.5L1759.1 1158.3L1753.4 1150.5M1736.1 1211.8L1740.9 1224.8M1738.3 1221.0L1740.9 1224.8L1740.5 1220.2M1736.1 1283.4L1711.5 1302.4M1717.7 1294.2L1711.5 1302.4L1721.0 1298.5M1736.1 1355.1L1714.9 1352.9M1721.8 1351.7L1714.9 1352.9L1721.5 1355.4M1736.1 1426.7L1687.7 1442.6M1701.8 1433.3L1687.7 1442.6L1704.5 1441.7M1811.5 710.2L1789.4 688.2M1798.4 693.3L1789.4 688.2L1794.6 697.1M1811.5 781.9L1809.6 767.2M1811.5 771.7L1809.6 767.2L1808.9 772.1M1811.5 1355.1L1806.8 1346.7M1809.0 1349.0L1806.8 1346.7L1807.6 1349.8" fill="none" stroke="#ff0000" stroke-width="3" stroke-linecap="round" stroke-linejoin="round"/>
</g>
<rect x="304" y="137" width="1507" height="1433" fill="none" stroke="#dcdcdc" stroke-width="1"/>
<g class="ser" font-size="118" fill="#000"><text x="378" y="89" textLength="273" lengthAdjust="spacingAndGlyphs">Mean</text><text x="691" y="89" textLength="378" lengthAdjust="spacingAndGlyphs">velocity</text><text x="1109" y="89" textLength="95" lengthAdjust="spacingAndGlyphs">at</text><text x="1244" y="89" textLength="231" lengthAdjust="spacingAndGlyphs">1500</text><text x="1510" y="89" textLength="228" lengthAdjust="spacingAndGlyphs">dbar</text></g>
<g class="san" font-size="100" fill="#262626">
<text x="281" y="171" text-anchor="end">27</text>
<text x="281" y="457.6" text-anchor="end">26</text>
<text x="281" y="744.2" text-anchor="end">25</text>
<text x="281" y="1030.8" text-anchor="end">24</text>
<text x="281" y="1317.4" text-anchor="end">23</text>
<text x="281" y="1604" text-anchor="end">22</text>
<text x="606" y="1689" text-anchor="middle">-88</text>
<text x="1209" y="1689" text-anchor="middle">-86</text>
<text x="1812" y="1689" text-anchor="middle">-84</text>
</g>
<g class="ser" font-size="128" fill="#262626"><text x="658" y="1816" textLength="523" lengthAdjust="spacingAndGlyphs">Longitude</text><text x="1227.5" y="1816" textLength="227" lengthAdjust="spacingAndGlyphs">[°W]</text></g>
<g class="ser" font-size="128" fill="#262626" transform="translate(102 0) rotate(-90)"><text x="-1194" y="0" textLength="443" lengthAdjust="spacingAndGlyphs">Latitude</text><text x="-704.5" y="0" textLength="188" lengthAdjust="spacingAndGlyphs">[°N]</text></g>
</svg>
</body></html>
